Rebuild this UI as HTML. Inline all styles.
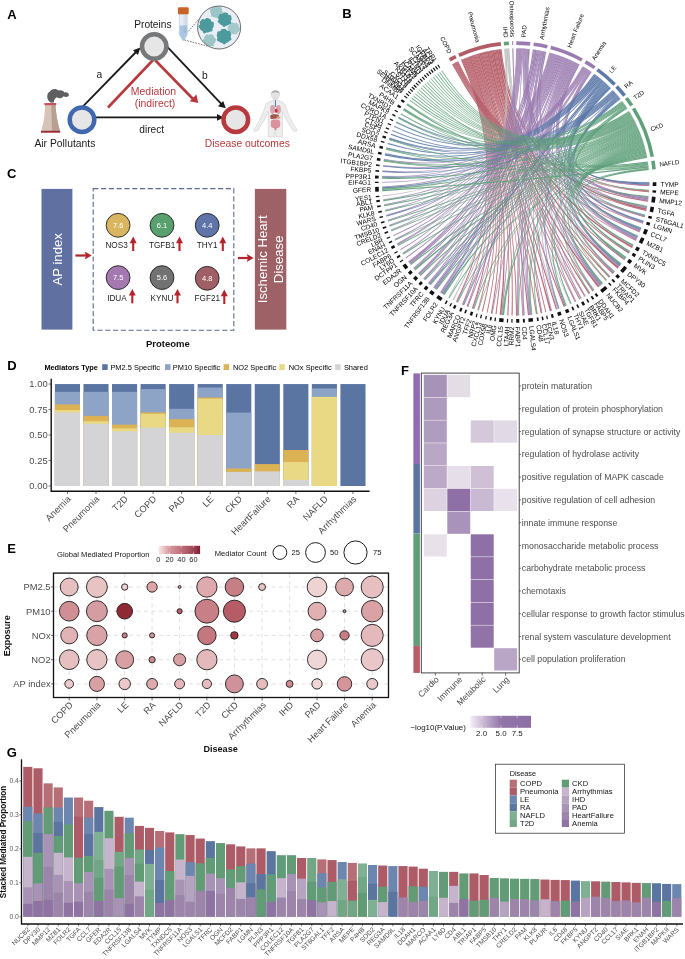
<!DOCTYPE html>
<html><head><meta charset="utf-8"><title>Figure</title>
<style>html,body{margin:0;padding:0;background:#fff}svg{display:block;will-change:transform}text{font-family:"Liberation Sans",sans-serif}</style></head>
<body>
<svg width="685" height="959" viewBox="0 0 685 959">
<rect width="685" height="959" fill="#fff"/>
<text x="7.20" y="19.00" font-size="13" fill="#000" text-anchor="start" font-weight="bold">A</text>
<g stroke="#1a1a1a" stroke-width="1.8" fill="none">
<line x1="82" y1="107.4" x2="136.5" y2="51.5"/>
<line x1="166.6" y1="46.2" x2="222" y2="104.6"/>
<line x1="86" y1="117.4" x2="219" y2="117.4"/>
</g>
<polygon points="140.4,47.6 133,50.2 137.9,55.1" fill="#1a1a1a"/>
<polygon points="225.8,108.3 217.9,106.3 223.2,101.1" fill="#1a1a1a"/>
<polygon points="223.9,117.4 217,114 217,120.8" fill="#1a1a1a"/>
<g stroke="#b8393d" stroke-width="2.6" fill="none">
<line x1="154" y1="59" x2="108" y2="107.5"/>
<line x1="154" y1="59" x2="193.5" y2="99.5"/>
</g>
<polygon points="198.3,103 189.6,101.2 196.4,94.4" fill="#b8393d"/>
<circle cx="154.2" cy="46.5" r="12.2" fill="#e6e6e6" stroke="#77787a" stroke-width="4.5"/>
<circle cx="82" cy="119.7" r="12.3" fill="#e6e6e6" stroke="#4167ae" stroke-width="4.5"/>
<circle cx="235.8" cy="119.7" r="12.3" fill="#e6e6e6" stroke="#b8393d" stroke-width="4.5"/>
<text x="134.20" y="27.50" font-size="10.2" fill="#1a1a1a" text-anchor="start" font-weight="normal">Proteins</text>
<text x="96.50" y="78.00" font-size="10.2" fill="#1a1a1a" text-anchor="start" font-weight="normal">a</text>
<text x="202.00" y="78.60" font-size="10.2" fill="#1a1a1a" text-anchor="start" font-weight="normal">b</text>
<text x="153.50" y="95.00" font-size="10.45" fill="#b8393d" text-anchor="middle" font-weight="normal">Mediation</text>
<text x="155.00" y="107.00" font-size="10.45" fill="#b8393d" text-anchor="middle" font-weight="normal">(indirect)</text>
<text x="151.70" y="133.00" font-size="10.2" fill="#1a1a1a" text-anchor="middle" font-weight="normal">direct</text>
<text x="34.40" y="147.00" font-size="10.35" fill="#1a1a1a" text-anchor="start" font-weight="normal">Air Pollutants</text>
<text x="289.90" y="147.00" font-size="10.35" fill="#b8393d" text-anchor="end" font-weight="normal">Disease outcomes</text>
<path d="M50.5 102.5 C46 100 46.5 92.5 50 91.5 C51 88.5 56.5 88 58.5 90.5 C61 89.5 64 90.8 64.5 92.5 C67 91.8 69.5 93.5 68.8 95.5 C68 97.5 65 97 63.5 96.2 C62 98.5 58.5 98.8 57 97.3 C55 98 54 100 53.6 102.8 Z" fill="#5f5f61"/>
<path d="M45 105 L55.6 105 C55.8 113 57.5 122 60 131 L41.2 131 C44 122 45 113 45 105 Z" fill="#d6c4b8"/>
<path d="M51.2 105 L55.6 105 C55.8 113 57.5 122 60 131 L52 131 Z" fill="#b99f92"/>
<rect x="44.4" y="103" width="11.8" height="2.2" fill="#c8535d"/>
<rect x="41" y="130.8" width="19.2" height="1.9" fill="#9e2a33"/>
<path d="M179.3 14 L187.3 14 L187.3 34.5 L184 40.5 L182.8 40.5 L179.3 34.5 Z" fill="#e4ecf5" stroke="#9fb0c4" stroke-width="0.4"/>
<path d="M179.5 25.6 L187.1 25.6 L187.1 34.4 L183.9 40.2 L182.9 40.2 L179.5 34.4 Z" fill="#a9c6e4"/>
<rect x="177.9" y="7.2" width="10.8" height="7" rx="1.2" fill="#c86428"/>
<g stroke="#8a98aa" stroke-width="0.35"><line x1="183.5" y1="16" x2="187" y2="16"/><line x1="183.5" y1="18" x2="187" y2="18"/><line x1="183.5" y1="20" x2="187" y2="20"/><line x1="183.5" y1="22" x2="187" y2="22"/><line x1="183.5" y1="24" x2="187" y2="24"/><line x1="183.5" y1="26" x2="187" y2="26"/><line x1="183.5" y1="28" x2="187" y2="28"/><line x1="183.5" y1="30" x2="187" y2="30"/><line x1="183.5" y1="32" x2="187" y2="32"/></g>
<g stroke="#222" stroke-width="0.6" stroke-dasharray="1.7 1.1"><line x1="188.3" y1="31.3" x2="198.4" y2="19.7"/><line x1="184.5" y1="40" x2="207.5" y2="46.1"/></g>
<clipPath id="bc"><circle cx="219.1" cy="27.5" r="21.3"/></clipPath>
<circle cx="219.1" cy="27.5" r="21.5" fill="#e9eef4"/>
<g clip-path="url(#bc)">
<polygon points="222.60,11.80 223.16,12.69 222.89,13.54 222.15,14.18 221.64,14.82 221.27,15.54 220.63,16.03 219.87,16.33 219.37,16.94 218.94,17.92 218.19,18.50 217.24,18.21 216.40,17.69 215.64,17.60 214.83,17.66 214.10,17.35 213.43,16.94 212.55,16.81 211.55,16.65 211.04,15.91 211.16,14.82 211.22,13.95 210.75,13.31 210.25,12.61 210.20,11.80 210.25,10.99 210.07,10.10 210.12,9.20 210.90,8.62 211.92,8.36 212.48,7.88 212.70,6.97 213.17,6.20 213.96,5.90 214.76,5.68 215.55,5.31 216.40,5.29 217.17,5.92 217.81,6.52 218.61,6.47 219.63,6.20 220.48,6.49 220.94,7.26 221.37,7.99 221.90,8.62 222.11,9.44 221.89,10.33 221.94,11.07" fill="#9cc5c7"/>
<polygon points="240.32,28.50 239.96,29.31 239.43,30.01 239.18,30.73 238.86,31.42 238.21,31.89 237.62,32.32 237.36,33.14 237.04,34.12 236.29,34.51 235.34,34.23 234.53,34.01 233.80,34.18 233.05,34.23 232.34,33.94 231.62,33.76 230.69,33.89 229.79,33.73 229.40,32.90 229.40,31.88 229.14,31.19 228.52,30.69 228.10,30.03 228.02,29.26 227.82,28.50 227.46,27.67 227.60,26.84 228.44,26.28 229.25,25.87 229.49,25.19 229.59,24.29 230.07,23.64 230.80,23.30 231.46,22.86 232.17,22.40 233.01,22.49 233.80,23.07 234.48,23.33 235.28,22.97 236.20,22.70 236.94,23.07 237.46,23.73 238.06,24.24 238.62,24.80 238.76,25.64 238.68,26.48 239.06,27.09 239.89,27.70" fill="#a3c9cb"/>
<polygon points="215.76,40.40 215.47,41.20 215.38,42.00 215.01,42.72 214.34,43.25 213.96,43.90 213.93,44.93 213.61,45.89 212.73,46.16 211.72,46.00 210.92,46.08 210.19,46.40 209.40,46.41 208.64,46.19 207.81,46.32 206.82,46.63 205.96,46.36 205.57,45.39 205.36,44.44 204.82,43.92 204.11,43.45 203.72,42.75 203.51,41.98 203.02,41.24 202.57,40.40 202.87,39.54 203.75,38.89 204.30,38.29 204.28,37.45 204.36,36.53 204.90,35.90 205.57,35.40 206.13,34.74 206.86,34.26 207.81,34.46 208.68,34.91 209.40,34.80 210.22,34.20 211.12,33.99 211.88,34.42 212.55,34.94 213.30,35.31 213.87,35.93 214.01,36.86 214.16,37.65 214.90,38.12 215.83,38.68 216.12,39.52" fill="#9cc5c7"/>
<polygon points="213.67,25.60 213.66,26.56 213.15,27.41 212.50,28.13 212.43,29.08 212.61,30.36 212.15,31.35 211.01,31.61 209.91,31.68 209.09,32.10 208.25,32.52 207.31,32.49 206.40,32.48 205.43,33.00 204.30,33.44 203.36,32.93 202.84,31.77 202.32,30.91 201.47,30.53 200.66,30.00 200.22,29.17 199.71,28.37 198.87,27.62 198.40,26.65 198.93,25.60 199.80,24.73 200.02,23.89 199.77,22.85 199.91,21.85 200.54,21.10 201.11,20.31 201.63,19.38 202.54,18.91 203.74,19.18 204.74,19.39 205.51,18.82 206.40,18.02 207.41,17.91 208.34,18.36 209.26,18.69 210.21,19.00 210.84,19.82 211.08,20.92 211.60,21.61 212.73,21.94 213.76,22.55 213.95,23.58 213.69,24.64" fill="#4c9a9b"/>
<polygon points="231.58,19.50 231.07,20.32 230.74,21.09 231.04,22.08 231.27,23.24 230.70,24.03 229.64,24.34 228.77,24.68 228.13,25.26 227.33,25.61 226.44,25.64 225.65,25.95 224.80,26.71 223.81,27.05 222.95,26.41 222.34,25.45 221.64,24.97 220.77,24.75 220.07,24.23 219.57,23.51 218.83,22.95 217.92,22.35 217.63,21.42 218.18,20.37 218.70,19.50 218.52,18.67 218.21,17.73 218.41,16.85 218.87,16.08 219.16,15.17 219.58,14.28 220.54,13.94 221.69,14.11 222.49,13.93 223.09,13.10 223.87,12.40 224.80,12.39 225.71,12.62 226.63,12.67 227.52,12.95 228.08,13.81 228.47,14.72 229.24,15.06 230.42,15.19 231.23,15.79 231.36,16.78 231.37,17.74 231.60,18.60" fill="#4c9a9b"/>
<polygon points="230.61,36.40 230.67,37.28 231.30,38.36 231.49,39.50 230.73,40.29 229.70,40.77 229.01,41.41 228.38,42.11 227.49,42.44 226.59,42.64 225.86,43.36 225.04,44.32 224.00,44.50 223.04,43.72 222.24,42.98 221.35,42.79 220.41,42.61 219.69,42.02 218.99,41.41 217.95,41.04 216.97,40.46 216.84,39.37 217.35,38.18 217.48,37.26 216.99,36.40 216.68,35.44 216.92,34.50 217.17,33.57 217.24,32.50 217.73,31.59 218.89,31.29 220.04,31.24 220.68,30.65 221.18,29.60 222.01,28.97 223.02,28.95 224.00,28.92 225.01,28.76 225.94,29.15 226.60,30.13 227.22,30.82 228.28,30.83 229.52,30.88 230.24,31.61 230.46,32.67 230.78,33.59 231.17,34.48 231.07,35.47" fill="#4c9a9b"/>
</g>
<circle cx="219.1" cy="27.5" r="21.5" fill="none" stroke="#333" stroke-width="0.7"/>
<g fill="#ededed" stroke="#c9c9c9" stroke-width="0.5">
<path d="M273.6 98.3 L273.4 100.6 C270 101.4 267.2 102 266 104.2 C263.5 112 259.5 121 255.6 127.2 C254 128.6 253.2 130.6 254.4 131.2 C255.6 131.8 256.6 131.4 257.4 130.2 C258 131 258.8 130.4 258.6 129.2 C262.2 124 265.8 117.6 268.4 111.4 L268.2 137 L274.7 137 L275.4 125.5 L276.1 137 L282.6 137 L282.4 111.4 C285 117.6 288.6 124 292.2 129.2 C292 130.4 292.8 131 293.4 130.2 C294.2 131.4 295.2 131.8 296.4 131.2 C297.6 130.6 296.8 128.6 295.2 127.2 C291.3 121 287.3 112 284.8 104.2 C283.6 102 280.8 101.4 277.4 100.6 L277.2 98.3 Z"/>
<circle cx="275.4" cy="94.6" r="4.2" fill="#e3e3e3"/>
</g>
<path d="M271.3 93.5 C271 89.5 280 89.5 279.6 93.8 C278 91.8 273 91.8 271.3 93.5Z" fill="#a9a9a9"/>
<rect x="274.9" y="100" width="1" height="7" fill="#3f78b5"/>
<ellipse cx="272.6" cy="109.5" rx="2.5" ry="4.4" fill="#dba3ab"/><ellipse cx="278.4" cy="109.5" rx="2.5" ry="4.4" fill="#dba3ab"/>
<ellipse cx="276.2" cy="110.8" rx="1.5" ry="2" fill="#b83a44"/>
<path d="M270.3 115.5 C272 113.8 277 114 279 115.2 L278.5 117.8 C275.5 118.8 272.5 119.3 270.5 118.8 Z" fill="#a2574a"/>
<ellipse cx="278.6" cy="117.6" rx="1.9" ry="1.5" fill="#d9a28f"/>
<rect x="270.8" y="119.4" width="9.4" height="8.6" rx="3" fill="#dc929c"/>
<rect x="274.4" y="127" width="2.2" height="3" rx="1" fill="#d07e89"/>
<text x="342.30" y="18.40" font-size="13" fill="#000" text-anchor="start" font-weight="bold">B</text>
<g fill="#b35b66" fill-opacity="0.92" stroke="#b35b66" stroke-width="0.16" stroke-opacity="0.9">
<path d="M457.5 61.7A133.6 133.6 0 0 1 458.2 61.4Q515.7 182.0 649.3 185.2A133.6 133.6 0 0 1 649.2 185.9Q515.7 182.0 457.5 61.7Z"/>
<path d="M456.7 62.1A133.6 133.6 0 0 1 457.5 61.7Q515.7 182.0 649.0 191.5A133.6 133.6 0 0 1 648.9 192.2Q515.7 182.0 456.7 62.1Z"/>
<path d="M455.7 62.6A133.6 133.6 0 0 1 456.7 62.1Q515.7 182.0 648.0 200.8A133.6 133.6 0 0 1 647.8 201.8Q515.7 182.0 455.7 62.6Z"/>
<path d="M454.9 63.0A133.6 133.6 0 0 1 455.7 62.6Q515.7 182.0 646.3 210.1A133.6 133.6 0 0 1 646.1 210.9Q515.7 182.0 454.9 63.0Z"/>
<path d="M454.3 63.3A133.6 133.6 0 0 1 454.9 63.0Q515.7 182.0 644.7 216.6A133.6 133.6 0 0 1 644.6 217.2Q515.7 182.0 454.3 63.3Z"/>
<path d="M453.7 63.7A133.6 133.6 0 0 1 454.3 63.3Q515.7 182.0 642.9 222.9A133.6 133.6 0 0 1 642.7 223.6Q515.7 182.0 453.7 63.7Z"/>
<path d="M453.0 64.0A133.6 133.6 0 0 1 453.7 63.7Q515.7 182.0 639.8 231.5A133.6 133.6 0 0 1 639.5 232.2Q515.7 182.0 453.0 64.0Z"/>
<path d="M452.2 64.5A133.6 133.6 0 0 1 453.0 64.0Q515.7 182.0 636.1 240.0A133.6 133.6 0 0 1 635.7 240.7Q515.7 182.0 452.2 64.5Z"/>
</g>
<g fill="#b35b66" fill-opacity="0.92" stroke="#b35b66" stroke-width="0.16" stroke-opacity="0.9">
<path d="M500.5 49.3A133.6 133.6 0 0 1 501.5 49.2Q515.7 182.0 649.0 190.6A133.6 133.6 0 0 1 649.0 191.5Q515.7 182.0 500.5 49.3Z"/>
<path d="M498.5 49.5A133.6 133.6 0 0 1 500.5 49.3Q515.7 182.0 646.7 208.4A133.6 133.6 0 0 1 646.3 210.1Q515.7 182.0 498.5 49.5Z"/>
<path d="M496.6 49.8A133.6 133.6 0 0 1 498.5 49.5Q515.7 182.0 632.7 246.5A133.6 133.6 0 0 1 631.9 247.9Q515.7 182.0 496.6 49.8Z"/>
<path d="M495.4 50.0A133.6 133.6 0 0 1 496.6 49.8Q515.7 182.0 629.2 252.5A133.6 133.6 0 0 1 628.6 253.4Q515.7 182.0 495.4 50.0Z"/>
<path d="M494.3 50.1A133.6 133.6 0 0 1 495.4 50.0Q515.7 182.0 624.7 259.2A133.6 133.6 0 0 1 624.2 260.0Q515.7 182.0 494.3 50.1Z"/>
<path d="M492.1 50.5A133.6 133.6 0 0 1 494.3 50.1Q515.7 182.0 618.7 267.0A133.6 133.6 0 0 1 617.5 268.5Q515.7 182.0 492.1 50.5Z"/>
<path d="M490.8 50.7A133.6 133.6 0 0 1 492.1 50.5Q515.7 182.0 613.4 273.1A133.6 133.6 0 0 1 612.7 273.9Q515.7 182.0 490.8 50.7Z"/>
<path d="M489.5 51.0A133.6 133.6 0 0 1 490.8 50.7Q515.7 182.0 609.8 276.8A133.6 133.6 0 0 1 609.0 277.6Q515.7 182.0 489.5 51.0Z"/>
<path d="M488.7 51.2A133.6 133.6 0 0 1 489.5 51.0Q515.7 182.0 606.3 280.2A133.6 133.6 0 0 1 605.8 280.7Q515.7 182.0 488.7 51.2Z"/>
<path d="M486.7 51.6A133.6 133.6 0 0 1 488.7 51.2Q515.7 182.0 599.3 286.3A133.6 133.6 0 0 1 597.9 287.3Q515.7 182.0 486.7 51.6Z"/>
<path d="M485.8 51.8A133.6 133.6 0 0 1 486.7 51.6Q515.7 182.0 593.2 290.8A133.6 133.6 0 0 1 592.5 291.3Q515.7 182.0 485.8 51.8Z"/>
<path d="M484.6 52.1A133.6 133.6 0 0 1 485.8 51.8Q515.7 182.0 589.6 293.3A133.6 133.6 0 0 1 588.7 293.9Q515.7 182.0 484.6 52.1Z"/>
<path d="M483.7 52.3A133.6 133.6 0 0 1 484.6 52.1Q515.7 182.0 585.1 296.2A133.6 133.6 0 0 1 584.4 296.6Q515.7 182.0 483.7 52.3Z"/>
<path d="M482.7 52.5A133.6 133.6 0 0 1 483.7 52.3Q515.7 182.0 580.2 299.0A133.6 133.6 0 0 1 579.4 299.4Q515.7 182.0 482.7 52.5Z"/>
<path d="M481.8 52.8A133.6 133.6 0 0 1 482.7 52.5Q515.7 182.0 575.4 301.5A133.6 133.6 0 0 1 574.8 301.8Q515.7 182.0 481.8 52.8Z"/>
<path d="M480.6 53.1A133.6 133.6 0 0 1 481.8 52.8Q515.7 182.0 564.6 306.3A133.6 133.6 0 0 1 563.6 306.7Q515.7 182.0 480.6 53.1Z"/>
<path d="M479.3 53.4A133.6 133.6 0 0 1 480.6 53.1Q515.7 182.0 557.1 309.0A133.6 133.6 0 0 1 556.0 309.4Q515.7 182.0 479.3 53.4Z"/>
<path d="M477.8 53.9A133.6 133.6 0 0 1 479.3 53.4Q515.7 182.0 551.2 310.8A133.6 133.6 0 0 1 549.9 311.2Q515.7 182.0 477.8 53.9Z"/>
<path d="M477.0 54.1A133.6 133.6 0 0 1 477.8 53.9Q515.7 182.0 546.2 312.1A133.6 133.6 0 0 1 545.5 312.2Q515.7 182.0 477.0 54.1Z"/>
<path d="M476.1 54.4A133.6 133.6 0 0 1 477.0 54.1Q515.7 182.0 541.6 313.1A133.6 133.6 0 0 1 540.8 313.2Q515.7 182.0 476.1 54.4Z"/>
<path d="M475.1 54.7A133.6 133.6 0 0 1 476.1 54.4Q515.7 182.0 536.9 313.9A133.6 133.6 0 0 1 536.1 314.0Q515.7 182.0 475.1 54.7Z"/>
<path d="M474.0 55.1A133.6 133.6 0 0 1 475.1 54.7Q515.7 182.0 529.0 314.9A133.6 133.6 0 0 1 528.0 315.0Q515.7 182.0 474.0 55.1Z"/>
<path d="M473.4 55.3A133.6 133.6 0 0 1 474.0 55.1Q515.7 182.0 523.2 315.4A133.6 133.6 0 0 1 522.6 315.4Q515.7 182.0 473.4 55.3Z"/>
<path d="M472.4 55.6A133.6 133.6 0 0 1 473.4 55.3Q515.7 182.0 517.0 315.6A133.6 133.6 0 0 1 516.1 315.6Q515.7 182.0 472.4 55.6Z"/>
<path d="M471.5 55.9A133.6 133.6 0 0 1 472.4 55.6Q515.7 182.0 512.5 315.6A133.6 133.6 0 0 1 511.6 315.5Q515.7 182.0 471.5 55.9Z"/>
<path d="M470.5 56.3A133.6 133.6 0 0 1 471.5 55.9Q515.7 182.0 508.3 315.4A133.6 133.6 0 0 1 507.4 315.3Q515.7 182.0 470.5 56.3Z"/>
<path d="M468.9 56.9A133.6 133.6 0 0 1 470.5 56.3Q515.7 182.0 501.3 314.8A133.6 133.6 0 0 1 499.8 314.7Q515.7 182.0 468.9 56.9Z"/>
<path d="M468.1 57.2A133.6 133.6 0 0 1 468.9 56.9Q515.7 182.0 496.4 314.2A133.6 133.6 0 0 1 495.6 314.1Q515.7 182.0 468.1 57.2Z"/>
<path d="M467.1 57.5A133.6 133.6 0 0 1 468.1 57.2Q515.7 182.0 491.9 313.5A133.6 133.6 0 0 1 491.0 313.3Q515.7 182.0 467.1 57.5Z"/>
<path d="M466.3 57.9A133.6 133.6 0 0 1 467.1 57.5Q515.7 182.0 487.5 312.6A133.6 133.6 0 0 1 486.8 312.4Q515.7 182.0 466.3 57.9Z"/>
<path d="M465.4 58.2A133.6 133.6 0 0 1 466.3 57.9Q515.7 182.0 482.8 311.5A133.6 133.6 0 0 1 482.0 311.3Q515.7 182.0 465.4 58.2Z"/>
<path d="M464.6 58.5A133.6 133.6 0 0 1 465.4 58.2Q515.7 182.0 478.3 310.3A133.6 133.6 0 0 1 477.6 310.0Q515.7 182.0 464.6 58.5Z"/>
<path d="M463.6 59.0A133.6 133.6 0 0 1 464.6 58.5Q515.7 182.0 472.9 308.5A133.6 133.6 0 0 1 472.0 308.2Q515.7 182.0 463.6 59.0Z"/>
<path d="M462.9 59.3A133.6 133.6 0 0 1 463.6 59.0Q515.7 182.0 467.4 306.6A133.6 133.6 0 0 1 466.8 306.3Q515.7 182.0 462.9 59.3Z"/>
<path d="M462.1 59.6A133.6 133.6 0 0 1 462.9 59.3Q515.7 182.0 462.8 304.7A133.6 133.6 0 0 1 462.1 304.4Q515.7 182.0 462.1 59.6Z"/>
<path d="M461.1 60.0A133.6 133.6 0 0 1 462.1 59.6Q515.7 182.0 456.9 302.0A133.6 133.6 0 0 1 456.1 301.6Q515.7 182.0 461.1 60.0Z"/>
</g>
<g fill="#bdbdbd" fill-opacity="0.92" stroke="#bdbdbd" stroke-width="0.16" stroke-opacity="0.9">
<path d="M508.2 48.6A133.6 133.6 0 0 1 509.2 48.6Q515.7 182.0 580.9 298.6A133.6 133.6 0 0 1 580.2 299.0Q515.7 182.0 508.2 48.6Z"/>
<path d="M507.6 48.6A133.6 133.6 0 0 1 508.2 48.6Q515.7 182.0 570.5 303.8A133.6 133.6 0 0 1 569.9 304.1Q515.7 182.0 507.6 48.6Z"/>
<path d="M506.4 48.7A133.6 133.6 0 0 1 507.6 48.6Q515.7 182.0 558.2 308.7A133.6 133.6 0 0 1 557.1 309.0Q515.7 182.0 506.4 48.7Z"/>
<path d="M505.1 48.8A133.6 133.6 0 0 1 506.4 48.7Q515.7 182.0 453.7 300.3A133.6 133.6 0 0 1 452.7 299.8Q515.7 182.0 505.1 48.8Z"/>
<path d="M504.3 48.9A133.6 133.6 0 0 1 505.1 48.8Q515.7 182.0 448.9 297.7A133.6 133.6 0 0 1 448.2 297.3Q515.7 182.0 504.3 48.9Z"/>
</g>
<g fill="#9a7bb0" fill-opacity="0.92" stroke="#9a7bb0" stroke-width="0.16" stroke-opacity="0.9">
<path d="M512.3 48.4A133.6 133.6 0 0 1 513.3 48.4Q515.7 182.0 529.4 314.9A133.6 133.6 0 0 1 529.0 314.9Q515.7 182.0 512.3 48.4Z"/>
</g>
<g fill="#9a7bb0" fill-opacity="0.92" stroke="#9a7bb0" stroke-width="0.16" stroke-opacity="0.9">
<path d="M528.2 49.0A133.6 133.6 0 0 1 529.7 49.1Q515.7 182.0 648.2 199.4A133.6 133.6 0 0 1 648.0 200.8Q515.7 182.0 528.2 49.0Z"/>
<path d="M527.4 48.9A133.6 133.6 0 0 1 528.2 49.0Q515.7 182.0 646.8 207.6A133.6 133.6 0 0 1 646.7 208.4Q515.7 182.0 527.4 48.9Z"/>
<path d="M526.7 48.9A133.6 133.6 0 0 1 527.4 48.9Q515.7 182.0 644.9 216.0A133.6 133.6 0 0 1 644.7 216.6Q515.7 182.0 526.7 48.9Z"/>
<path d="M525.8 48.8A133.6 133.6 0 0 1 526.7 48.9Q515.7 182.0 640.1 230.7A133.6 133.6 0 0 1 639.8 231.5Q515.7 182.0 525.8 48.8Z"/>
<path d="M525.0 48.7A133.6 133.6 0 0 1 525.8 48.8Q515.7 182.0 636.4 239.3A133.6 133.6 0 0 1 636.1 240.0Q515.7 182.0 525.0 48.7Z"/>
<path d="M524.2 48.7A133.6 133.6 0 0 1 525.0 48.7Q515.7 182.0 619.2 266.5A133.6 133.6 0 0 1 618.7 267.0Q515.7 182.0 524.2 48.7Z"/>
<path d="M523.5 48.6A133.6 133.6 0 0 1 524.2 48.7Q515.7 182.0 599.8 285.8A133.6 133.6 0 0 1 599.3 286.3Q515.7 182.0 523.5 48.6Z"/>
<path d="M522.7 48.6A133.6 133.6 0 0 1 523.5 48.6Q515.7 182.0 502.1 314.9A133.6 133.6 0 0 1 501.3 314.8Q515.7 182.0 522.7 48.6Z"/>
<path d="M521.7 48.5A133.6 133.6 0 0 1 522.7 48.6Q515.7 182.0 441.0 292.8A133.6 133.6 0 0 1 440.2 292.3Q515.7 182.0 521.7 48.5Z"/>
<path d="M520.9 48.5A133.6 133.6 0 0 1 521.7 48.5Q515.7 182.0 434.0 287.7A133.6 133.6 0 0 1 433.4 287.3Q515.7 182.0 520.9 48.5Z"/>
<path d="M520.2 48.5A133.6 133.6 0 0 1 520.9 48.5Q515.7 182.0 428.8 283.5A133.6 133.6 0 0 1 428.2 283.0Q515.7 182.0 520.2 48.5Z"/>
<path d="M519.4 48.5A133.6 133.6 0 0 1 520.2 48.5Q515.7 182.0 423.9 279.1A133.6 133.6 0 0 1 423.4 278.6Q515.7 182.0 519.4 48.5Z"/>
<path d="M518.7 48.4A133.6 133.6 0 0 1 519.4 48.5Q515.7 182.0 418.6 273.8A133.6 133.6 0 0 1 418.2 273.3Q515.7 182.0 518.7 48.4Z"/>
<path d="M518.0 48.4A133.6 133.6 0 0 1 518.7 48.4Q515.7 182.0 413.8 268.4A133.6 133.6 0 0 1 413.4 267.9Q515.7 182.0 518.0 48.4Z"/>
<path d="M517.0 48.4A133.6 133.6 0 0 1 518.0 48.4Q515.7 182.0 408.8 262.1A133.6 133.6 0 0 1 408.3 261.4Q515.7 182.0 517.0 48.4Z"/>
<path d="M516.3 48.4A133.6 133.6 0 0 1 517.0 48.4Q515.7 182.0 400.7 250.0A133.6 133.6 0 0 1 400.3 249.3Q515.7 182.0 516.3 48.4Z"/>
</g>
<g fill="#9a7bb0" fill-opacity="0.92" stroke="#9a7bb0" stroke-width="0.16" stroke-opacity="0.9">
<path d="M545.0 51.7A133.6 133.6 0 0 1 546.2 51.9Q515.7 182.0 636.8 238.4A133.6 133.6 0 0 1 636.4 239.3Q515.7 182.0 545.0 51.7Z"/>
<path d="M543.4 51.3A133.6 133.6 0 0 1 545.0 51.7Q515.7 182.0 600.8 285.0A133.6 133.6 0 0 1 599.8 285.8Q515.7 182.0 543.4 51.3Z"/>
<path d="M542.6 51.1A133.6 133.6 0 0 1 543.4 51.3Q515.7 182.0 530.0 314.8A133.6 133.6 0 0 1 529.4 314.9Q515.7 182.0 542.6 51.1Z"/>
<path d="M541.6 50.9A133.6 133.6 0 0 1 542.6 51.1Q515.7 182.0 523.9 315.3A133.6 133.6 0 0 1 523.2 315.4Q515.7 182.0 541.6 50.9Z"/>
<path d="M540.7 50.8A133.6 133.6 0 0 1 541.6 50.9Q515.7 182.0 517.7 315.6A133.6 133.6 0 0 1 517.0 315.6Q515.7 182.0 540.7 50.8Z"/>
<path d="M539.9 50.6A133.6 133.6 0 0 1 540.7 50.8Q515.7 182.0 473.5 308.8A133.6 133.6 0 0 1 472.9 308.5Q515.7 182.0 539.9 50.6Z"/>
<path d="M539.1 50.5A133.6 133.6 0 0 1 539.9 50.6Q515.7 182.0 457.4 302.2A133.6 133.6 0 0 1 456.9 302.0Q515.7 182.0 539.1 50.5Z"/>
<path d="M537.8 50.2A133.6 133.6 0 0 1 539.1 50.5Q515.7 182.0 441.8 293.3A133.6 133.6 0 0 1 441.0 292.8Q515.7 182.0 537.8 50.2Z"/>
<path d="M536.7 50.1A133.6 133.6 0 0 1 537.8 50.2Q515.7 182.0 419.2 274.4A133.6 133.6 0 0 1 418.6 273.8Q515.7 182.0 536.7 50.1Z"/>
<path d="M535.0 49.8A133.6 133.6 0 0 1 536.7 50.1Q515.7 182.0 409.6 263.1A133.6 133.6 0 0 1 408.8 262.1Q515.7 182.0 535.0 49.8Z"/>
<path d="M534.0 49.7A133.6 133.6 0 0 1 535.0 49.8Q515.7 182.0 402.9 253.6A133.6 133.6 0 0 1 402.5 252.9Q515.7 182.0 534.0 49.7Z"/>
<path d="M532.9 49.5A133.6 133.6 0 0 1 534.0 49.7Q515.7 182.0 397.4 244.2A133.6 133.6 0 0 1 397.1 243.4Q515.7 182.0 532.9 49.5Z"/>
</g>
<g fill="#9a7bb0" fill-opacity="0.92" stroke="#9a7bb0" stroke-width="0.16" stroke-opacity="0.9">
<path d="M578.1 63.9A133.6 133.6 0 0 1 579.4 64.6Q515.7 182.0 648.3 198.0A133.6 133.6 0 0 1 648.2 199.4Q515.7 182.0 578.1 63.9Z"/>
<path d="M577.3 63.4A133.6 133.6 0 0 1 578.1 63.9Q515.7 182.0 643.1 222.2A133.6 133.6 0 0 1 642.9 222.9Q515.7 182.0 577.3 63.4Z"/>
<path d="M576.2 62.9A133.6 133.6 0 0 1 577.3 63.4Q515.7 182.0 640.5 229.7A133.6 133.6 0 0 1 640.1 230.7Q515.7 182.0 576.2 62.9Z"/>
<path d="M575.2 62.4A133.6 133.6 0 0 1 576.2 62.9Q515.7 182.0 637.2 237.5A133.6 133.6 0 0 1 636.8 238.4Q515.7 182.0 575.2 62.4Z"/>
<path d="M574.0 61.8A133.6 133.6 0 0 1 575.2 62.4Q515.7 182.0 614.2 272.2A133.6 133.6 0 0 1 613.4 273.1Q515.7 182.0 574.0 61.8Z"/>
<path d="M573.4 61.5A133.6 133.6 0 0 1 574.0 61.8Q515.7 182.0 593.7 290.5A133.6 133.6 0 0 1 593.2 290.8Q515.7 182.0 573.4 61.5Z"/>
<path d="M572.8 61.2A133.6 133.6 0 0 1 573.4 61.5Q515.7 182.0 585.6 295.9A133.6 133.6 0 0 1 585.1 296.2Q515.7 182.0 572.8 61.2Z"/>
<path d="M572.1 60.9A133.6 133.6 0 0 1 572.8 61.2Q515.7 182.0 581.6 298.2A133.6 133.6 0 0 1 580.9 298.6Q515.7 182.0 572.1 60.9Z"/>
<path d="M571.4 60.6A133.6 133.6 0 0 1 572.1 60.9Q515.7 182.0 576.1 301.2A133.6 133.6 0 0 1 575.4 301.5Q515.7 182.0 571.4 60.6Z"/>
<path d="M570.3 60.1A133.6 133.6 0 0 1 571.4 60.6Q515.7 182.0 565.6 305.9A133.6 133.6 0 0 1 564.6 306.3Q515.7 182.0 570.3 60.1Z"/>
<path d="M569.6 59.8A133.6 133.6 0 0 1 570.3 60.1Q515.7 182.0 558.8 308.5A133.6 133.6 0 0 1 558.2 308.7Q515.7 182.0 569.6 59.8Z"/>
<path d="M568.8 59.4A133.6 133.6 0 0 1 569.6 59.8Q515.7 182.0 551.9 310.6A133.6 133.6 0 0 1 551.2 310.8Q515.7 182.0 568.8 59.4Z"/>
<path d="M568.2 59.1A133.6 133.6 0 0 1 568.8 59.4Q515.7 182.0 542.3 312.9A133.6 133.6 0 0 1 541.6 313.1Q515.7 182.0 568.2 59.1Z"/>
<path d="M567.3 58.8A133.6 133.6 0 0 1 568.2 59.1Q515.7 182.0 530.9 314.7A133.6 133.6 0 0 1 530.0 314.8Q515.7 182.0 567.3 58.8Z"/>
<path d="M566.7 58.5A133.6 133.6 0 0 1 567.3 58.8Q515.7 182.0 524.5 315.3A133.6 133.6 0 0 1 523.9 315.3Q515.7 182.0 566.7 58.5Z"/>
<path d="M565.9 58.2A133.6 133.6 0 0 1 566.7 58.5Q515.7 182.0 518.4 315.6A133.6 133.6 0 0 1 517.7 315.6Q515.7 182.0 565.9 58.2Z"/>
<path d="M565.3 57.9A133.6 133.6 0 0 1 565.9 58.2Q515.7 182.0 492.5 313.6A133.6 133.6 0 0 1 491.9 313.5Q515.7 182.0 565.3 57.9Z"/>
<path d="M564.4 57.6A133.6 133.6 0 0 1 565.3 57.9Q515.7 182.0 468.2 306.9A133.6 133.6 0 0 1 467.4 306.6Q515.7 182.0 564.4 57.6Z"/>
<path d="M563.7 57.3A133.6 133.6 0 0 1 564.4 57.6Q515.7 182.0 463.4 304.9A133.6 133.6 0 0 1 462.8 304.7Q515.7 182.0 563.7 57.3Z"/>
<path d="M562.4 56.8A133.6 133.6 0 0 1 563.7 57.3Q515.7 182.0 435.0 288.5A133.6 133.6 0 0 1 434.0 287.7Q515.7 182.0 562.4 56.8Z"/>
<path d="M561.3 56.4A133.6 133.6 0 0 1 562.4 56.8Q515.7 182.0 424.7 279.8A133.6 133.6 0 0 1 423.9 279.1Q515.7 182.0 561.3 56.4Z"/>
<path d="M560.4 56.1A133.6 133.6 0 0 1 561.3 56.4Q515.7 182.0 419.9 275.1A133.6 133.6 0 0 1 419.2 274.4Q515.7 182.0 560.4 56.1Z"/>
<path d="M559.4 55.7A133.6 133.6 0 0 1 560.4 56.1Q515.7 182.0 414.4 269.1A133.6 133.6 0 0 1 413.8 268.4Q515.7 182.0 559.4 55.7Z"/>
<path d="M558.2 55.3A133.6 133.6 0 0 1 559.4 55.7Q515.7 182.0 410.3 264.1A133.6 133.6 0 0 1 409.6 263.1Q515.7 182.0 558.2 55.3Z"/>
<path d="M557.3 55.0A133.6 133.6 0 0 1 558.2 55.3Q515.7 182.0 406.0 258.3A133.6 133.6 0 0 1 405.5 257.6Q515.7 182.0 557.3 55.0Z"/>
<path d="M556.4 54.8A133.6 133.6 0 0 1 557.3 55.0Q515.7 182.0 397.8 244.9A133.6 133.6 0 0 1 397.4 244.2Q515.7 182.0 556.4 54.8Z"/>
<path d="M555.6 54.5A133.6 133.6 0 0 1 556.4 54.8Q515.7 182.0 395.3 239.9A133.6 133.6 0 0 1 394.9 239.1Q515.7 182.0 555.6 54.5Z"/>
<path d="M554.8 54.3A133.6 133.6 0 0 1 555.6 54.5Q515.7 182.0 393.4 235.9A133.6 133.6 0 0 1 393.2 235.2Q515.7 182.0 554.8 54.3Z"/>
<path d="M554.0 54.0A133.6 133.6 0 0 1 554.8 54.3Q515.7 182.0 391.2 230.5A133.6 133.6 0 0 1 391.0 229.8Q515.7 182.0 554.0 54.0Z"/>
<path d="M553.2 53.8A133.6 133.6 0 0 1 554.0 54.0Q515.7 182.0 389.5 225.8A133.6 133.6 0 0 1 389.2 225.0Q515.7 182.0 553.2 53.8Z"/>
<path d="M552.3 53.5A133.6 133.6 0 0 1 553.2 53.8Q515.7 182.0 387.9 220.8A133.6 133.6 0 0 1 387.6 220.0Q515.7 182.0 552.3 53.5Z"/>
<path d="M551.5 53.3A133.6 133.6 0 0 1 552.3 53.5Q515.7 182.0 386.4 215.8A133.6 133.6 0 0 1 386.2 215.0Q515.7 182.0 551.5 53.3Z"/>
<path d="M550.8 53.1A133.6 133.6 0 0 1 551.5 53.3Q515.7 182.0 385.2 210.6A133.6 133.6 0 0 1 385.0 209.9Q515.7 182.0 550.8 53.1Z"/>
<path d="M550.0 52.9A133.6 133.6 0 0 1 550.8 53.1Q515.7 182.0 384.2 205.3A133.6 133.6 0 0 1 384.0 204.6Q515.7 182.0 550.0 52.9Z"/>
<path d="M549.4 52.7A133.6 133.6 0 0 1 550.0 52.9Q515.7 182.0 382.9 196.3A133.6 133.6 0 0 1 382.8 195.7Q515.7 182.0 549.4 52.7Z"/>
</g>
<g fill="#9a7bb0" fill-opacity="0.92" stroke="#9a7bb0" stroke-width="0.16" stroke-opacity="0.9">
<path d="M591.1 71.7A133.6 133.6 0 0 1 591.6 72.0Q515.7 182.0 649.3 184.6A133.6 133.6 0 0 1 649.3 185.2Q515.7 182.0 591.1 71.7Z"/>
<path d="M590.5 71.3A133.6 133.6 0 0 1 591.1 71.7Q515.7 182.0 648.4 197.3A133.6 133.6 0 0 1 648.3 198.0Q515.7 182.0 590.5 71.3Z"/>
<path d="M590.0 71.0A133.6 133.6 0 0 1 590.5 71.3Q515.7 182.0 646.9 207.0A133.6 133.6 0 0 1 646.8 207.6Q515.7 182.0 590.0 71.0Z"/>
<path d="M589.4 70.6A133.6 133.6 0 0 1 590.0 71.0Q515.7 182.0 633.0 245.9A133.6 133.6 0 0 1 632.7 246.5Q515.7 182.0 589.4 70.6Z"/>
<path d="M588.9 70.2A133.6 133.6 0 0 1 589.4 70.6Q515.7 182.0 619.6 265.9A133.6 133.6 0 0 1 619.2 266.5Q515.7 182.0 588.9 70.2Z"/>
<path d="M588.4 69.9A133.6 133.6 0 0 1 588.9 70.2Q515.7 182.0 601.2 284.6A133.6 133.6 0 0 1 600.8 285.0Q515.7 182.0 588.4 69.9Z"/>
<path d="M587.9 69.6A133.6 133.6 0 0 1 588.4 69.9Q515.7 182.0 442.3 293.7A133.6 133.6 0 0 1 441.8 293.3Q515.7 182.0 587.9 69.6Z"/>
<path d="M587.5 69.3A133.6 133.6 0 0 1 587.9 69.6Q515.7 182.0 435.4 288.8A133.6 133.6 0 0 1 435.0 288.5Q515.7 182.0 587.5 69.3Z"/>
<path d="M586.6 68.7A133.6 133.6 0 0 1 587.5 69.3Q515.7 182.0 429.6 284.2A133.6 133.6 0 0 1 428.8 283.5Q515.7 182.0 586.6 68.7Z"/>
<path d="M585.9 68.4A133.6 133.6 0 0 1 586.6 68.7Q515.7 182.0 383.3 200.1A133.6 133.6 0 0 1 383.2 199.4Q515.7 182.0 585.9 68.4Z"/>
<path d="M585.4 68.0A133.6 133.6 0 0 1 585.9 68.4Q515.7 182.0 382.2 187.3A133.6 133.6 0 0 1 382.2 186.7Q515.7 182.0 585.4 68.0Z"/>
<path d="M584.9 67.7A133.6 133.6 0 0 1 585.4 68.0Q515.7 182.0 382.1 182.6A133.6 133.6 0 0 1 382.1 182.1Q515.7 182.0 584.9 67.7Z"/>
<path d="M584.4 67.4A133.6 133.6 0 0 1 584.9 67.7Q515.7 182.0 382.2 176.6A133.6 133.6 0 0 1 382.2 175.9Q515.7 182.0 584.4 67.4Z"/>
<path d="M583.8 67.1A133.6 133.6 0 0 1 584.4 67.4Q515.7 182.0 382.5 171.3A133.6 133.6 0 0 1 382.6 170.6Q515.7 182.0 583.8 67.1Z"/>
<path d="M583.3 66.8A133.6 133.6 0 0 1 583.8 67.1Q515.7 182.0 383.1 165.8A133.6 133.6 0 0 1 383.2 165.2Q515.7 182.0 583.3 66.8Z"/>
<path d="M582.7 66.4A133.6 133.6 0 0 1 583.3 66.8Q515.7 182.0 384.0 159.7A133.6 133.6 0 0 1 384.1 159.0Q515.7 182.0 582.7 66.4Z"/>
</g>
<g fill="#5b78a8" fill-opacity="0.92" stroke="#5b78a8" stroke-width="0.16" stroke-opacity="0.9">
<path d="M609.3 86.7A133.6 133.6 0 0 1 610.8 88.2Q515.7 182.0 649.3 183.3A133.6 133.6 0 0 1 649.3 184.6Q515.7 182.0 609.3 86.7Z"/>
<path d="M608.7 86.1A133.6 133.6 0 0 1 609.3 86.7Q515.7 182.0 645.0 215.4A133.6 133.6 0 0 1 644.9 216.0Q515.7 182.0 608.7 86.1Z"/>
<path d="M607.8 85.2A133.6 133.6 0 0 1 608.7 86.1Q515.7 182.0 643.4 221.4A133.6 133.6 0 0 1 643.1 222.2Q515.7 182.0 607.8 85.2Z"/>
<path d="M607.0 84.4A133.6 133.6 0 0 1 607.8 85.2Q515.7 182.0 640.7 229.1A133.6 133.6 0 0 1 640.5 229.7Q515.7 182.0 607.0 84.4Z"/>
<path d="M606.3 83.8A133.6 133.6 0 0 1 607.0 84.4Q515.7 182.0 637.5 236.9A133.6 133.6 0 0 1 637.2 237.5Q515.7 182.0 606.3 83.8Z"/>
<path d="M605.4 83.0A133.6 133.6 0 0 1 606.3 83.8Q515.7 182.0 620.2 265.3A133.6 133.6 0 0 1 619.6 265.9Q515.7 182.0 605.4 83.0Z"/>
<path d="M604.7 82.3A133.6 133.6 0 0 1 605.4 83.0Q515.7 182.0 601.7 284.2A133.6 133.6 0 0 1 601.2 284.6Q515.7 182.0 604.7 82.3Z"/>
<path d="M604.0 81.8A133.6 133.6 0 0 1 604.7 82.3Q515.7 182.0 559.3 308.3A133.6 133.6 0 0 1 558.8 308.5Q515.7 182.0 604.0 81.8Z"/>
<path d="M603.3 81.2A133.6 133.6 0 0 1 604.0 81.8Q515.7 182.0 464.0 305.2A133.6 133.6 0 0 1 463.4 304.9Q515.7 182.0 603.3 81.2Z"/>
<path d="M602.0 80.0A133.6 133.6 0 0 1 603.3 81.2Q515.7 182.0 443.3 294.3A133.6 133.6 0 0 1 442.3 293.7Q515.7 182.0 602.0 80.0Z"/>
<path d="M601.2 79.4A133.6 133.6 0 0 1 602.0 80.0Q515.7 182.0 436.0 289.2A133.6 133.6 0 0 1 435.4 288.8Q515.7 182.0 601.2 79.4Z"/>
<path d="M600.5 78.8A133.6 133.6 0 0 1 601.2 79.4Q515.7 182.0 386.6 216.4A133.6 133.6 0 0 1 386.4 215.8Q515.7 182.0 600.5 78.8Z"/>
<path d="M599.2 77.7A133.6 133.6 0 0 1 600.5 78.8Q515.7 182.0 385.0 154.3A133.6 133.6 0 0 1 385.2 153.3Q515.7 182.0 599.2 77.7Z"/>
<path d="M598.4 77.0A133.6 133.6 0 0 1 599.2 77.7Q515.7 182.0 386.4 148.2A133.6 133.6 0 0 1 386.6 147.5Q515.7 182.0 598.4 77.0Z"/>
<path d="M597.1 76.1A133.6 133.6 0 0 1 598.4 77.0Q515.7 182.0 387.6 143.9A133.6 133.6 0 0 1 387.9 142.9Q515.7 182.0 597.1 76.1Z"/>
<path d="M596.2 75.4A133.6 133.6 0 0 1 597.1 76.1Q515.7 182.0 389.4 138.5A133.6 133.6 0 0 1 389.6 137.8Q515.7 182.0 596.2 75.4Z"/>
<path d="M595.1 74.6A133.6 133.6 0 0 1 596.2 75.4Q515.7 182.0 390.8 134.7A133.6 133.6 0 0 1 391.1 133.8Q515.7 182.0 595.1 74.6Z"/>
<path d="M594.2 73.9A133.6 133.6 0 0 1 595.1 74.6Q515.7 182.0 394.0 126.8A133.6 133.6 0 0 1 394.3 126.1Q515.7 182.0 594.2 73.9Z"/>
</g>
<g fill="#5b78a8" fill-opacity="0.92" stroke="#5b78a8" stroke-width="0.16" stroke-opacity="0.9">
<path d="M619.9 98.4A133.6 133.6 0 0 1 620.4 99.0Q515.7 182.0 649.3 182.3A133.6 133.6 0 0 1 649.3 183.3Q515.7 182.0 619.9 98.4Z"/>
<path d="M619.6 98.0A133.6 133.6 0 0 1 619.9 98.4Q515.7 182.0 643.5 220.8A133.6 133.6 0 0 1 643.4 221.4Q515.7 182.0 619.6 98.0Z"/>
<path d="M619.0 97.3A133.6 133.6 0 0 1 619.6 98.0Q515.7 182.0 641.1 228.2A133.6 133.6 0 0 1 640.7 229.1Q515.7 182.0 619.0 97.3Z"/>
<path d="M618.7 96.9A133.6 133.6 0 0 1 619.0 97.3Q515.7 182.0 637.7 236.4A133.6 133.6 0 0 1 637.5 236.9Q515.7 182.0 618.7 96.9Z"/>
<path d="M618.4 96.5A133.6 133.6 0 0 1 618.7 96.9Q515.7 182.0 629.5 252.0A133.6 133.6 0 0 1 629.2 252.5Q515.7 182.0 618.4 96.5Z"/>
<path d="M618.0 96.1A133.6 133.6 0 0 1 618.4 96.5Q515.7 182.0 625.1 258.7A133.6 133.6 0 0 1 624.7 259.2Q515.7 182.0 618.0 96.1Z"/>
<path d="M617.6 95.6A133.6 133.6 0 0 1 618.0 96.1Q515.7 182.0 620.7 264.6A133.6 133.6 0 0 1 620.2 265.3Q515.7 182.0 617.6 95.6Z"/>
<path d="M617.2 95.1A133.6 133.6 0 0 1 617.6 95.6Q515.7 182.0 430.2 284.6A133.6 133.6 0 0 1 429.6 284.2Q515.7 182.0 617.2 95.1Z"/>
<path d="M616.6 94.4A133.6 133.6 0 0 1 617.2 95.1Q515.7 182.0 382.3 188.4A133.6 133.6 0 0 1 382.2 187.3Q515.7 182.0 616.6 94.4Z"/>
<path d="M616.0 93.8A133.6 133.6 0 0 1 616.6 94.4Q515.7 182.0 382.2 177.5A133.6 133.6 0 0 1 382.2 176.6Q515.7 182.0 616.0 93.8Z"/>
<path d="M615.5 93.2A133.6 133.6 0 0 1 616.0 93.8Q515.7 182.0 382.5 172.1A133.6 133.6 0 0 1 382.5 171.3Q515.7 182.0 615.5 93.2Z"/>
<path d="M615.1 92.7A133.6 133.6 0 0 1 615.5 93.2Q515.7 182.0 383.0 166.6A133.6 133.6 0 0 1 383.1 165.8Q515.7 182.0 615.1 92.7Z"/>
<path d="M614.4 92.0A133.6 133.6 0 0 1 615.1 92.7Q515.7 182.0 384.8 155.4A133.6 133.6 0 0 1 385.0 154.3Q515.7 182.0 614.4 92.0Z"/>
<path d="M614.0 91.6A133.6 133.6 0 0 1 614.4 92.0Q515.7 182.0 389.1 139.2A133.6 133.6 0 0 1 389.4 138.5Q515.7 182.0 614.0 91.6Z"/>
<path d="M613.6 91.1A133.6 133.6 0 0 1 614.0 91.6Q515.7 182.0 392.2 130.9A133.6 133.6 0 0 1 392.5 130.3Q515.7 182.0 613.6 91.1Z"/>
<path d="M613.2 90.7A133.6 133.6 0 0 1 613.6 91.1Q515.7 182.0 396.1 122.4A133.6 133.6 0 0 1 396.5 121.7Q515.7 182.0 613.2 90.7Z"/>
<path d="M612.8 90.2A133.6 133.6 0 0 1 613.2 90.7Q515.7 182.0 398.5 117.8A133.6 133.6 0 0 1 398.9 117.1Q515.7 182.0 612.8 90.2Z"/>
</g>
<g fill="#5fa07a" fill-opacity="0.92" stroke="#5fa07a" stroke-width="0.16" stroke-opacity="0.9">
<path d="M626.8 107.8A133.6 133.6 0 0 1 627.2 108.5Q515.7 182.0 649.1 189.9A133.6 133.6 0 0 1 649.0 190.6Q515.7 182.0 626.8 107.8Z"/>
<path d="M626.1 106.7A133.6 133.6 0 0 1 626.8 107.8Q515.7 182.0 625.7 257.8A133.6 133.6 0 0 1 625.1 258.7Q515.7 182.0 626.1 106.7Z"/>
<path d="M625.7 106.2A133.6 133.6 0 0 1 626.1 106.7Q515.7 182.0 531.5 314.7A133.6 133.6 0 0 1 530.9 314.7Q515.7 182.0 625.7 106.2Z"/>
<path d="M625.3 105.6A133.6 133.6 0 0 1 625.7 106.2Q515.7 182.0 502.7 315.0A133.6 133.6 0 0 1 502.1 314.9Q515.7 182.0 625.3 105.6Z"/>
<path d="M624.8 104.9A133.6 133.6 0 0 1 625.3 105.6Q515.7 182.0 382.3 189.1A133.6 133.6 0 0 1 382.3 188.4Q515.7 182.0 624.8 104.9Z"/>
<path d="M624.1 103.9A133.6 133.6 0 0 1 624.8 104.9Q515.7 182.0 383.8 160.7A133.6 133.6 0 0 1 384.0 159.7Q515.7 182.0 624.1 103.9Z"/>
<path d="M623.6 103.3A133.6 133.6 0 0 1 624.1 103.9Q515.7 182.0 386.3 148.9A133.6 133.6 0 0 1 386.4 148.2Q515.7 182.0 623.6 103.3Z"/>
<path d="M623.2 102.7A133.6 133.6 0 0 1 623.6 103.3Q515.7 182.0 403.9 108.9A133.6 133.6 0 0 1 404.3 108.3Q515.7 182.0 623.2 102.7Z"/>
<path d="M622.6 101.9A133.6 133.6 0 0 1 623.2 102.7Q515.7 182.0 407.2 104.1A133.6 133.6 0 0 1 407.7 103.4Q515.7 182.0 622.6 101.9Z"/>
<path d="M622.1 101.2A133.6 133.6 0 0 1 622.6 101.9Q515.7 182.0 428.7 80.6A133.6 133.6 0 0 1 429.2 80.2Q515.7 182.0 622.1 101.2Z"/>
</g>
<g fill="#5fa07a" fill-opacity="0.92" stroke="#5fa07a" stroke-width="0.16" stroke-opacity="0.9">
<path d="M646.9 156.6A133.6 133.6 0 0 1 647.1 157.7Q515.7 182.0 648.5 196.2A133.6 133.6 0 0 1 648.4 197.3Q515.7 182.0 646.9 156.6Z"/>
<path d="M646.7 155.6A133.6 133.6 0 0 1 646.9 156.6Q515.7 182.0 647.1 205.9A133.6 133.6 0 0 1 646.9 207.0Q515.7 182.0 646.7 155.6Z"/>
<path d="M646.5 155.0A133.6 133.6 0 0 1 646.7 155.6Q515.7 182.0 645.2 214.8A133.6 133.6 0 0 1 645.0 215.4Q515.7 182.0 646.5 155.0Z"/>
<path d="M646.4 154.3A133.6 133.6 0 0 1 646.5 155.0Q515.7 182.0 641.3 227.6A133.6 133.6 0 0 1 641.1 228.2Q515.7 182.0 646.4 154.3Z"/>
<path d="M646.3 153.7A133.6 133.6 0 0 1 646.4 154.3Q515.7 182.0 638.0 235.7A133.6 133.6 0 0 1 637.7 236.4Q515.7 182.0 646.3 153.7Z"/>
<path d="M646.0 152.5A133.6 133.6 0 0 1 646.3 153.7Q515.7 182.0 633.6 244.8A133.6 133.6 0 0 1 633.0 245.9Q515.7 182.0 646.0 152.5Z"/>
<path d="M645.7 151.4A133.6 133.6 0 0 1 646.0 152.5Q515.7 182.0 630.1 251.0A133.6 133.6 0 0 1 629.5 252.0Q515.7 182.0 645.7 151.4Z"/>
<path d="M645.5 150.2A133.6 133.6 0 0 1 645.7 151.4Q515.7 182.0 621.5 263.6A133.6 133.6 0 0 1 620.7 264.6Q515.7 182.0 645.5 150.2Z"/>
<path d="M645.3 149.4A133.6 133.6 0 0 1 645.5 150.2Q515.7 182.0 614.8 271.6A133.6 133.6 0 0 1 614.2 272.2Q515.7 182.0 645.3 149.4Z"/>
<path d="M645.1 148.8A133.6 133.6 0 0 1 645.3 149.4Q515.7 182.0 610.3 276.3A133.6 133.6 0 0 1 609.8 276.8Q515.7 182.0 645.1 148.8Z"/>
<path d="M645.0 148.3A133.6 133.6 0 0 1 645.1 148.8Q515.7 182.0 606.7 279.8A133.6 133.6 0 0 1 606.3 280.2Q515.7 182.0 645.0 148.3Z"/>
<path d="M644.6 146.9A133.6 133.6 0 0 1 645.0 148.3Q515.7 182.0 602.9 283.3A133.6 133.6 0 0 1 601.7 284.2Q515.7 182.0 644.6 146.9Z"/>
<path d="M644.4 146.2A133.6 133.6 0 0 1 644.6 146.9Q515.7 182.0 594.3 290.1A133.6 133.6 0 0 1 593.7 290.5Q515.7 182.0 644.4 146.2Z"/>
<path d="M644.2 145.6A133.6 133.6 0 0 1 644.4 146.2Q515.7 182.0 590.2 292.9A133.6 133.6 0 0 1 589.6 293.3Q515.7 182.0 644.2 145.6Z"/>
<path d="M644.0 144.6A133.6 133.6 0 0 1 644.2 145.6Q515.7 182.0 571.4 303.4A133.6 133.6 0 0 1 570.5 303.8Q515.7 182.0 644.0 144.6Z"/>
<path d="M643.7 143.6A133.6 133.6 0 0 1 644.0 144.6Q515.7 182.0 566.7 305.5A133.6 133.6 0 0 1 565.6 305.9Q515.7 182.0 643.7 143.6Z"/>
<path d="M643.5 142.9A133.6 133.6 0 0 1 643.7 143.6Q515.7 182.0 537.6 313.8A133.6 133.6 0 0 1 536.9 313.9Q515.7 182.0 643.5 142.9Z"/>
<path d="M643.2 142.2A133.6 133.6 0 0 1 643.5 142.9Q515.7 182.0 532.2 314.6A133.6 133.6 0 0 1 531.5 314.7Q515.7 182.0 643.2 142.2Z"/>
<path d="M643.0 141.6A133.6 133.6 0 0 1 643.2 142.2Q515.7 182.0 519.1 315.6A133.6 133.6 0 0 1 518.4 315.6Q515.7 182.0 643.0 141.6Z"/>
<path d="M642.7 140.4A133.6 133.6 0 0 1 643.0 141.6Q515.7 182.0 504.0 315.1A133.6 133.6 0 0 1 502.7 315.0Q515.7 182.0 642.7 140.4Z"/>
<path d="M642.5 140.0A133.6 133.6 0 0 1 642.7 140.4Q515.7 182.0 478.7 310.4A133.6 133.6 0 0 1 478.3 310.3Q515.7 182.0 642.5 140.0Z"/>
<path d="M642.3 139.2A133.6 133.6 0 0 1 642.5 140.0Q515.7 182.0 474.3 309.0A133.6 133.6 0 0 1 473.5 308.8Q515.7 182.0 642.3 139.2Z"/>
<path d="M642.1 138.6A133.6 133.6 0 0 1 642.3 139.2Q515.7 182.0 458.0 302.5A133.6 133.6 0 0 1 457.4 302.2Q515.7 182.0 642.1 138.6Z"/>
<path d="M641.6 137.4A133.6 133.6 0 0 1 642.1 138.6Q515.7 182.0 444.5 295.0A133.6 133.6 0 0 1 443.3 294.3Q515.7 182.0 641.6 137.4Z"/>
<path d="M641.3 136.4A133.6 133.6 0 0 1 641.6 137.4Q515.7 182.0 436.8 289.8A133.6 133.6 0 0 1 436.0 289.2Q515.7 182.0 641.3 136.4Z"/>
<path d="M641.1 135.8A133.6 133.6 0 0 1 641.3 136.4Q515.7 182.0 430.7 285.1A133.6 133.6 0 0 1 430.2 284.6Q515.7 182.0 641.1 135.8Z"/>
<path d="M640.8 135.1A133.6 133.6 0 0 1 641.1 135.8Q515.7 182.0 425.3 280.3A133.6 133.6 0 0 1 424.7 279.8Q515.7 182.0 640.8 135.1Z"/>
<path d="M640.4 134.1A133.6 133.6 0 0 1 640.8 135.1Q515.7 182.0 420.6 275.9A133.6 133.6 0 0 1 419.9 275.1Q515.7 182.0 640.4 134.1Z"/>
<path d="M639.9 132.8A133.6 133.6 0 0 1 640.4 134.1Q515.7 182.0 415.4 270.3A133.6 133.6 0 0 1 414.4 269.1Q515.7 182.0 639.9 132.8Z"/>
<path d="M639.5 131.7A133.6 133.6 0 0 1 639.9 132.8Q515.7 182.0 411.0 265.0A133.6 133.6 0 0 1 410.3 264.1Q515.7 182.0 639.5 131.7Z"/>
<path d="M639.1 130.7A133.6 133.6 0 0 1 639.5 131.7Q515.7 182.0 403.5 254.5A133.6 133.6 0 0 1 402.9 253.6Q515.7 182.0 639.1 130.7Z"/>
<path d="M638.7 129.9A133.6 133.6 0 0 1 639.1 130.7Q515.7 182.0 398.3 245.8A133.6 133.6 0 0 1 397.8 244.9Q515.7 182.0 638.7 129.9Z"/>
<path d="M638.5 129.3A133.6 133.6 0 0 1 638.7 129.9Q515.7 182.0 395.5 240.4A133.6 133.6 0 0 1 395.3 239.9Q515.7 182.0 638.5 129.3Z"/>
<path d="M638.2 128.6A133.6 133.6 0 0 1 638.5 129.3Q515.7 182.0 391.5 231.3A133.6 133.6 0 0 1 391.2 230.5Q515.7 182.0 638.2 128.6Z"/>
<path d="M637.8 127.8A133.6 133.6 0 0 1 638.2 128.6Q515.7 182.0 389.8 226.6A133.6 133.6 0 0 1 389.5 225.8Q515.7 182.0 637.8 127.8Z"/>
<path d="M637.6 127.2A133.6 133.6 0 0 1 637.8 127.8Q515.7 182.0 388.1 221.5A133.6 133.6 0 0 1 387.9 220.8Q515.7 182.0 637.6 127.2Z"/>
<path d="M637.2 126.4A133.6 133.6 0 0 1 637.6 127.2Q515.7 182.0 385.4 211.4A133.6 133.6 0 0 1 385.2 210.6Q515.7 182.0 637.2 126.4Z"/>
<path d="M636.8 125.7A133.6 133.6 0 0 1 637.2 126.4Q515.7 182.0 384.3 206.2A133.6 133.6 0 0 1 384.2 205.3Q515.7 182.0 636.8 125.7Z"/>
<path d="M636.4 124.7A133.6 133.6 0 0 1 636.8 125.7Q515.7 182.0 383.5 201.2A133.6 133.6 0 0 1 383.3 200.1Q515.7 182.0 636.4 124.7Z"/>
<path d="M636.0 123.9A133.6 133.6 0 0 1 636.4 124.7Q515.7 182.0 382.3 190.1A133.6 133.6 0 0 1 382.3 189.1Q515.7 182.0 636.0 123.9Z"/>
<path d="M635.5 122.9A133.6 133.6 0 0 1 636.0 123.9Q515.7 182.0 382.1 178.7A133.6 133.6 0 0 1 382.2 177.5Q515.7 182.0 635.5 122.9Z"/>
<path d="M635.2 122.2A133.6 133.6 0 0 1 635.5 122.9Q515.7 182.0 383.7 161.5A133.6 133.6 0 0 1 383.8 160.7Q515.7 182.0 635.2 122.2Z"/>
<path d="M635.0 121.8A133.6 133.6 0 0 1 635.2 122.2Q515.7 182.0 396.0 122.8A133.6 133.6 0 0 1 396.1 122.4Q515.7 182.0 635.0 121.8Z"/>
<path d="M634.7 121.2A133.6 133.6 0 0 1 635.0 121.8Q515.7 182.0 398.2 118.4A133.6 133.6 0 0 1 398.5 117.8Q515.7 182.0 634.7 121.2Z"/>
<path d="M634.2 120.4A133.6 133.6 0 0 1 634.7 121.2Q515.7 182.0 400.5 114.3A133.6 133.6 0 0 1 401.1 113.4Q515.7 182.0 634.2 120.4Z"/>
<path d="M633.8 119.5A133.6 133.6 0 0 1 634.2 120.4Q515.7 182.0 403.3 109.7A133.6 133.6 0 0 1 403.9 108.9Q515.7 182.0 633.8 119.5Z"/>
<path d="M633.4 118.8A133.6 133.6 0 0 1 633.8 119.5Q515.7 182.0 409.7 100.6A133.6 133.6 0 0 1 410.3 100.0Q515.7 182.0 633.4 118.8Z"/>
<path d="M633.1 118.2A133.6 133.6 0 0 1 633.4 118.8Q515.7 182.0 411.5 98.4A133.6 133.6 0 0 1 412.0 97.8Q515.7 182.0 633.1 118.2Z"/>
<path d="M632.7 117.6A133.6 133.6 0 0 1 633.1 118.2Q515.7 182.0 413.3 96.2A133.6 133.6 0 0 1 413.8 95.7Q515.7 182.0 632.7 117.6Z"/>
<path d="M632.4 116.9A133.6 133.6 0 0 1 632.7 117.6Q515.7 182.0 415.1 94.1A133.6 133.6 0 0 1 415.6 93.6Q515.7 182.0 632.4 116.9Z"/>
<path d="M632.1 116.5A133.6 133.6 0 0 1 632.4 116.9Q515.7 182.0 416.9 92.0A133.6 133.6 0 0 1 417.3 91.6Q515.7 182.0 632.1 116.5Z"/>
<path d="M631.8 115.9A133.6 133.6 0 0 1 632.1 116.5Q515.7 182.0 420.7 88.1A133.6 133.6 0 0 1 421.2 87.6Q515.7 182.0 631.8 115.9Z"/>
<path d="M631.4 115.3A133.6 133.6 0 0 1 631.8 115.9Q515.7 182.0 422.6 86.1A133.6 133.6 0 0 1 423.2 85.6Q515.7 182.0 631.4 115.3Z"/>
<path d="M631.2 114.8A133.6 133.6 0 0 1 631.4 115.3Q515.7 182.0 424.7 84.2A133.6 133.6 0 0 1 425.1 83.8Q515.7 182.0 631.2 114.8Z"/>
<path d="M630.8 114.2A133.6 133.6 0 0 1 631.2 114.8Q515.7 182.0 426.6 82.5A133.6 133.6 0 0 1 427.1 82.0Q515.7 182.0 630.8 114.2Z"/>
<path d="M630.5 113.7A133.6 133.6 0 0 1 630.8 114.2Q515.7 182.0 430.8 78.8A133.6 133.6 0 0 1 431.3 78.5Q515.7 182.0 630.5 113.7Z"/>
<path d="M630.2 113.1A133.6 133.6 0 0 1 630.5 113.7Q515.7 182.0 432.9 77.2A133.6 133.6 0 0 1 433.4 76.7Q515.7 182.0 630.2 113.1Z"/>
<path d="M629.9 112.6A133.6 133.6 0 0 1 630.2 113.1Q515.7 182.0 435.1 75.5A133.6 133.6 0 0 1 435.5 75.1Q515.7 182.0 629.9 112.6Z"/>
<path d="M629.6 112.1A133.6 133.6 0 0 1 629.9 112.6Q515.7 182.0 437.2 73.9A133.6 133.6 0 0 1 437.7 73.6Q515.7 182.0 629.6 112.1Z"/>
<path d="M629.3 111.7A133.6 133.6 0 0 1 629.6 112.1Q515.7 182.0 439.3 72.4A133.6 133.6 0 0 1 439.8 72.0Q515.7 182.0 629.3 111.7Z"/>
<path d="M629.0 111.2A133.6 133.6 0 0 1 629.3 111.7Q515.7 182.0 441.5 70.9A133.6 133.6 0 0 1 442.0 70.6Q515.7 182.0 629.0 111.2Z"/>
</g>
<g fill="#5fa07a" fill-opacity="0.92" stroke="#5fa07a" stroke-width="0.16" stroke-opacity="0.9">
<path d="M648.6 168.6A133.6 133.6 0 0 1 648.8 169.9Q515.7 182.0 626.3 256.9A133.6 133.6 0 0 1 625.7 257.8Q515.7 182.0 648.6 168.6Z"/>
<path d="M648.5 167.7A133.6 133.6 0 0 1 648.6 168.6Q515.7 182.0 449.6 298.1A133.6 133.6 0 0 1 448.9 297.7Q515.7 182.0 648.5 167.7Z"/>
<path d="M648.4 166.3A133.6 133.6 0 0 1 648.5 167.7Q515.7 182.0 382.4 191.3A133.6 133.6 0 0 1 382.3 190.1Q515.7 182.0 648.4 166.3Z"/>
<path d="M648.2 165.3A133.6 133.6 0 0 1 648.4 166.3Q515.7 182.0 386.0 149.8A133.6 133.6 0 0 1 386.3 148.9Q515.7 182.0 648.2 165.3Z"/>
<path d="M648.1 164.4A133.6 133.6 0 0 1 648.2 165.3Q515.7 182.0 388.9 139.9A133.6 133.6 0 0 1 389.1 139.2Q515.7 182.0 648.1 164.4Z"/>
<path d="M648.0 163.7A133.6 133.6 0 0 1 648.1 164.4Q515.7 182.0 403.0 110.2A133.6 133.6 0 0 1 403.3 109.7Q515.7 182.0 648.0 163.7Z"/>
<path d="M647.9 162.4A133.6 133.6 0 0 1 648.0 163.7Q515.7 182.0 406.5 105.0A133.6 133.6 0 0 1 407.2 104.1Q515.7 182.0 647.9 162.4Z"/>
<path d="M647.7 161.6A133.6 133.6 0 0 1 647.9 162.4Q515.7 182.0 418.7 90.1A133.6 133.6 0 0 1 419.2 89.6Q515.7 182.0 647.7 161.6Z"/>
</g>
<path d="M448.8 58.2A140.7 140.7 0 0 1 455.1 55.0L456.7 58.3A137.1 137.1 0 0 0 450.5 61.4Z" fill="#b35b66"/>
<path d="M458.2 53.6A140.7 140.7 0 0 1 500.7 42.1L501.1 45.7A137.1 137.1 0 0 0 459.7 56.9Z" fill="#b35b66"/>
<path d="M503.7 41.8A140.7 140.7 0 0 1 508.8 41.5L509.0 45.1A137.1 137.1 0 0 0 504.0 45.4Z" fill="#5fa07a"/>
<path d="M512.1 41.3A140.7 140.7 0 0 1 513.1 41.3L513.2 44.9A137.1 137.1 0 0 0 512.2 44.9Z" fill="#9a7bb0"/>
<path d="M516.3 41.3A140.7 140.7 0 0 1 530.4 42.1L530.0 45.7A137.1 137.1 0 0 0 516.3 44.9Z" fill="#9a7bb0"/>
<path d="M533.8 42.5A140.7 140.7 0 0 1 547.8 45.0L547.0 48.5A137.1 137.1 0 0 0 533.4 46.0Z" fill="#9a7bb0"/>
<path d="M551.2 45.8A140.7 140.7 0 0 1 582.8 58.4L581.1 61.5A137.1 137.1 0 0 0 550.3 49.3Z" fill="#9a7bb0"/>
<path d="M586.3 60.3A140.7 140.7 0 0 1 595.6 66.2L593.6 69.1A137.1 137.1 0 0 0 584.5 63.4Z" fill="#9a7bb0"/>
<path d="M598.4 68.2A140.7 140.7 0 0 1 615.9 83.2L613.3 85.7A137.1 137.1 0 0 0 596.3 71.1Z" fill="#5b78a8"/>
<path d="M617.9 85.3A140.7 140.7 0 0 1 626.0 94.6L623.1 96.8A137.1 137.1 0 0 0 615.3 87.8Z" fill="#5b78a8"/>
<path d="M627.8 96.9A140.7 140.7 0 0 1 633.2 104.5L630.2 106.5A137.1 137.1 0 0 0 624.9 99.1Z" fill="#5fa07a"/>
<path d="M635.0 107.4A140.7 140.7 0 0 1 654.0 156.4L650.5 157.0A137.1 137.1 0 0 0 632.0 109.3Z" fill="#5fa07a"/>
<path d="M654.7 160.5A140.7 140.7 0 0 1 655.8 169.2L652.2 169.6A137.1 137.1 0 0 0 651.2 161.0Z" fill="#5fa07a"/>
<g fill="#111">
<path d="M656.4 182.3A140.7 140.7 0 0 1 656.3 186.1L652.7 186.0A137.1 137.1 0 0 0 652.8 182.3Z"/>
<path d="M656.2 190.4A140.7 140.7 0 0 1 656.0 192.8L652.4 192.5A137.1 137.1 0 0 0 652.6 190.2Z"/>
<path d="M655.6 196.9A140.7 140.7 0 0 1 654.8 202.8L651.3 202.3A137.1 137.1 0 0 0 652.0 196.5Z"/>
<path d="M654.1 207.2A140.7 140.7 0 0 1 653.1 212.4L649.6 211.6A137.1 137.1 0 0 0 650.6 206.5Z"/>
<path d="M652.1 216.6A140.7 140.7 0 0 1 651.4 219.1L648.0 218.1A137.1 137.1 0 0 0 648.6 215.7Z"/>
<path d="M650.3 222.8A140.7 140.7 0 0 1 649.4 225.8L646.0 224.6A137.1 137.1 0 0 0 646.9 221.8Z"/>
<path d="M648.0 230.0A140.7 140.7 0 0 1 646.1 234.8L642.8 233.5A137.1 137.1 0 0 0 644.6 228.8Z"/>
<path d="M644.5 238.6A140.7 140.7 0 0 1 642.1 243.9L638.8 242.3A137.1 137.1 0 0 0 641.2 237.2Z"/>
<path d="M639.9 248.1A140.7 140.7 0 0 1 638.1 251.4L634.9 249.7A137.1 137.1 0 0 0 636.7 246.4Z"/>
<path d="M636.2 254.6A140.7 140.7 0 0 1 634.6 257.2L631.6 255.3A137.1 137.1 0 0 0 633.1 252.8Z"/>
<path d="M632.2 260.9A140.7 140.7 0 0 1 629.9 264.1L627.0 262.0A137.1 137.1 0 0 0 629.2 258.8Z"/>
<path d="M627.1 267.9A140.7 140.7 0 0 1 622.9 273.1L620.2 270.8A137.1 137.1 0 0 0 624.3 265.7Z"/>
<path d="M620.0 276.4A140.7 140.7 0 0 1 617.8 278.8L615.2 276.3A137.1 137.1 0 0 0 617.4 274.0Z"/>
<path d="M615.3 281.4A140.7 140.7 0 0 1 613.9 282.7L611.4 280.1A137.1 137.1 0 0 0 612.8 278.8Z"/>
<path d="M611.5 285.0A140.7 140.7 0 0 1 610.5 285.9L608.1 283.3A137.1 137.1 0 0 0 609.1 282.4Z"/>
<path d="M607.5 288.6A140.7 140.7 0 0 1 602.3 292.9L600.1 290.1A137.1 137.1 0 0 0 605.1 285.9Z"/>
<path d="M598.4 295.8A140.7 140.7 0 0 1 596.6 297.1L594.5 294.2A137.1 137.1 0 0 0 596.3 292.9Z"/>
<path d="M594.2 298.8A140.7 140.7 0 0 1 592.6 299.8L590.6 296.8A137.1 137.1 0 0 0 592.2 295.8Z"/>
<path d="M589.3 301.9A140.7 140.7 0 0 1 588.0 302.7L586.2 299.6A137.1 137.1 0 0 0 587.4 298.8Z"/>
<path d="M585.1 304.4A140.7 140.7 0 0 1 582.8 305.7L581.1 302.5A137.1 137.1 0 0 0 583.3 301.3Z"/>
<path d="M579.3 307.5A140.7 140.7 0 0 1 577.9 308.2L576.3 305.0A137.1 137.1 0 0 0 577.7 304.3Z"/>
<path d="M574.4 309.9A140.7 140.7 0 0 1 572.8 310.6L571.4 307.3A137.1 137.1 0 0 0 572.9 306.6Z"/>
<path d="M569.4 312.0A140.7 140.7 0 0 1 566.2 313.3L564.9 310.0A137.1 137.1 0 0 0 568.1 308.7Z"/>
<path d="M561.6 315.0A140.7 140.7 0 0 1 558.2 316.1L557.1 312.7A137.1 137.1 0 0 0 560.5 311.6Z"/>
<path d="M553.9 317.4A140.7 140.7 0 0 1 551.7 318.0L550.8 314.5A137.1 137.1 0 0 0 552.9 314.0Z"/>
<path d="M548.0 318.9A140.7 140.7 0 0 1 546.8 319.2L546.1 315.7A137.1 137.1 0 0 0 547.2 315.4Z"/>
<path d="M543.7 319.9A140.7 140.7 0 0 1 542.2 320.2L541.5 316.7A137.1 137.1 0 0 0 543.0 316.4Z"/>
<path d="M538.8 320.8A140.7 140.7 0 0 1 537.2 321.1L536.6 317.5A137.1 137.1 0 0 0 538.2 317.2Z"/>
<path d="M533.1 321.6A140.7 140.7 0 0 1 528.6 322.1L528.3 318.5A137.1 137.1 0 0 0 532.7 318.0Z"/>
<path d="M525.0 322.4A140.7 140.7 0 0 1 523.0 322.5L522.8 318.9A137.1 137.1 0 0 0 524.7 318.8Z"/>
<path d="M519.3 322.7A140.7 140.7 0 0 1 516.2 322.7L516.2 319.1A137.1 137.1 0 0 0 519.2 319.1Z"/>
<path d="M512.5 322.7A140.7 140.7 0 0 1 511.3 322.6L511.4 319.0A137.1 137.1 0 0 0 512.6 319.1Z"/>
<path d="M508.0 322.5A140.7 140.7 0 0 1 506.8 322.4L507.0 318.8A137.1 137.1 0 0 0 508.2 318.9Z"/>
<path d="M503.4 322.2A140.7 140.7 0 0 1 499.0 321.7L499.4 318.1A137.1 137.1 0 0 0 503.7 318.6Z"/>
<path d="M495.6 321.3A140.7 140.7 0 0 1 494.3 321.1L494.9 317.5A137.1 137.1 0 0 0 496.1 317.7Z"/>
<path d="M491.3 320.6A140.7 140.7 0 0 1 489.7 320.3L490.3 316.7A137.1 137.1 0 0 0 491.9 317.0Z"/>
<path d="M486.3 319.6A140.7 140.7 0 0 1 485.1 319.3L485.8 315.8A137.1 137.1 0 0 0 487.0 316.1Z"/>
<path d="M481.2 318.4A140.7 140.7 0 0 1 480.0 318.1L480.9 314.6A137.1 137.1 0 0 0 482.1 314.9Z"/>
<path d="M476.7 317.2A140.7 140.7 0 0 1 475.6 316.9L476.6 313.4A137.1 137.1 0 0 0 477.7 313.7Z"/>
<path d="M472.1 315.8A140.7 140.7 0 0 1 469.7 315.0L470.8 311.6A137.1 137.1 0 0 0 473.2 312.3Z"/>
<path d="M465.7 313.5A140.7 140.7 0 0 1 464.2 313.0L465.6 309.6A137.1 137.1 0 0 0 467.0 310.2Z"/>
<path d="M461.2 311.7A140.7 140.7 0 0 1 459.2 310.9L460.7 307.6A137.1 137.1 0 0 0 462.6 308.4Z"/>
<path d="M455.0 308.9A140.7 140.7 0 0 1 452.9 307.9L454.5 304.7A137.1 137.1 0 0 0 456.5 305.7Z"/>
<path d="M450.4 306.6A140.7 140.7 0 0 1 449.3 306.1L451.0 302.9A137.1 137.1 0 0 0 452.1 303.4Z"/>
<path d="M446.0 304.2A140.7 140.7 0 0 1 444.7 303.4L446.5 300.3A137.1 137.1 0 0 0 447.8 301.1Z"/>
<path d="M440.7 301.0A140.7 140.7 0 0 1 436.2 298.1L438.3 295.1A137.1 137.1 0 0 0 442.6 298.0Z"/>
<path d="M432.6 295.5A140.7 140.7 0 0 1 429.1 292.9L431.3 290.0A137.1 137.1 0 0 0 434.7 292.6Z"/>
<path d="M426.2 290.6A140.7 140.7 0 0 1 423.6 288.4L426.0 285.6A137.1 137.1 0 0 0 428.5 287.8Z"/>
<path d="M420.5 285.6A140.7 140.7 0 0 1 418.5 283.7L420.9 281.1A137.1 137.1 0 0 0 422.9 282.9Z"/>
<path d="M415.6 280.9A140.7 140.7 0 0 1 413.0 278.2L415.6 275.7A137.1 137.1 0 0 0 418.1 278.3Z"/>
<path d="M410.1 275.0A140.7 140.7 0 0 1 407.9 272.5L410.7 270.1A137.1 137.1 0 0 0 412.8 272.6Z"/>
<path d="M405.4 269.4A140.7 140.7 0 0 1 402.5 265.6L405.4 263.5A137.1 137.1 0 0 0 408.3 267.2Z"/>
<path d="M400.3 262.5A140.7 140.7 0 0 1 399.6 261.5L402.6 259.5A137.1 137.1 0 0 0 403.3 260.4Z"/>
<path d="M397.5 258.4A140.7 140.7 0 0 1 396.5 256.7L399.5 254.8A137.1 137.1 0 0 0 400.6 256.4Z"/>
<path d="M394.7 253.8A140.7 140.7 0 0 1 394.1 252.7L397.2 250.9A137.1 137.1 0 0 0 397.8 251.9Z"/>
<path d="M392.1 249.1A140.7 140.7 0 0 1 390.8 246.7L394.0 245.0A137.1 137.1 0 0 0 395.2 247.4Z"/>
<path d="M389.2 243.5A140.7 140.7 0 0 1 388.5 242.2L391.8 240.6A137.1 137.1 0 0 0 392.4 241.9Z"/>
<path d="M387.0 239.0A140.7 140.7 0 0 1 386.6 237.8L389.9 236.4A137.1 137.1 0 0 0 390.3 237.5Z"/>
<path d="M385.0 234.0A140.7 140.7 0 0 1 384.3 232.4L387.7 231.1A137.1 137.1 0 0 0 388.3 232.6Z"/>
<path d="M383.1 229.0A140.7 140.7 0 0 1 382.5 227.3L385.9 226.2A137.1 137.1 0 0 0 386.5 227.8Z"/>
<path d="M381.3 223.6A140.7 140.7 0 0 1 380.8 222.1L384.3 221.0A137.1 137.1 0 0 0 384.7 222.5Z"/>
<path d="M379.7 218.2A140.7 140.7 0 0 1 379.4 216.8L382.9 215.9A137.1 137.1 0 0 0 383.2 217.3Z"/>
<path d="M378.5 213.0A140.7 140.7 0 0 1 378.1 211.4L381.6 210.6A137.1 137.1 0 0 0 382.0 212.2Z"/>
<path d="M377.3 207.5A140.7 140.7 0 0 1 377.0 205.8L380.6 205.2A137.1 137.1 0 0 0 380.9 206.8Z"/>
<path d="M376.5 202.2A140.7 140.7 0 0 1 376.2 200.3L379.8 199.8A137.1 137.1 0 0 0 380.0 201.7Z"/>
<path d="M375.8 197.3A140.7 140.7 0 0 1 375.7 196.1L379.3 195.7A137.1 137.1 0 0 0 379.4 196.9Z"/>
<path d="M375.3 191.8A140.7 140.7 0 0 1 375.1 186.9L378.7 186.8A137.1 137.1 0 0 0 378.9 191.6Z"/>
<path d="M375.0 183.0A140.7 140.7 0 0 1 375.0 181.8L378.6 181.8A137.1 137.1 0 0 0 378.6 183.0Z"/>
<path d="M375.0 178.5A140.7 140.7 0 0 1 375.1 175.6L378.7 175.8A137.1 137.1 0 0 0 378.6 178.6Z"/>
<path d="M375.4 171.6A140.7 140.7 0 0 1 375.5 170.0L379.1 170.3A137.1 137.1 0 0 0 379.0 171.9Z"/>
<path d="M375.9 165.8A140.7 140.7 0 0 1 376.1 164.3L379.7 164.8A137.1 137.1 0 0 0 379.5 166.2Z"/>
<path d="M376.7 160.4A140.7 140.7 0 0 1 377.1 157.8L380.6 158.4A137.1 137.1 0 0 0 380.2 160.9Z"/>
<path d="M377.8 154.0A140.7 140.7 0 0 1 378.3 151.7L381.8 152.5A137.1 137.1 0 0 0 381.4 154.7Z"/>
<path d="M379.2 148.1A140.7 140.7 0 0 1 379.8 145.7L383.2 146.6A137.1 137.1 0 0 0 382.6 148.9Z"/>
<path d="M380.8 142.0A140.7 140.7 0 0 1 381.2 140.8L384.6 141.8A137.1 137.1 0 0 0 384.3 143.0Z"/>
<path d="M382.2 137.6A140.7 140.7 0 0 1 382.9 135.4L386.3 136.6A137.1 137.1 0 0 0 385.6 138.8Z"/>
<path d="M384.1 132.3A140.7 140.7 0 0 1 384.5 131.1L387.9 132.4A137.1 137.1 0 0 0 387.4 133.6Z"/>
<path d="M385.6 128.5A140.7 140.7 0 0 1 386.1 127.3L389.4 128.7A137.1 137.1 0 0 0 388.9 129.8Z"/>
<path d="M387.5 124.1A140.7 140.7 0 0 1 388.0 123.0L391.3 124.5A137.1 137.1 0 0 0 390.8 125.6Z"/>
<path d="M389.6 119.6A140.7 140.7 0 0 1 390.1 118.5L393.3 120.1A137.1 137.1 0 0 0 392.8 121.2Z"/>
<path d="M392.0 115.0A140.7 140.7 0 0 1 392.7 113.7L395.8 115.5A137.1 137.1 0 0 0 395.1 116.7Z"/>
<path d="M394.4 110.7A140.7 140.7 0 0 1 395.0 109.7L398.1 111.5A137.1 137.1 0 0 0 397.5 112.6Z"/>
<path d="M397.0 106.4A140.7 140.7 0 0 1 398.3 104.4L401.3 106.4A137.1 137.1 0 0 0 400.1 108.3Z"/>
<path d="M400.7 100.9A140.7 140.7 0 0 1 401.9 99.2L404.9 101.3A137.1 137.1 0 0 0 403.7 102.9Z"/>
<path d="M404.0 96.4A140.7 140.7 0 0 1 404.8 95.5L407.6 97.7A137.1 137.1 0 0 0 406.9 98.6Z"/>
<path d="M405.8 94.1A140.7 140.7 0 0 1 406.6 93.1L409.4 95.4A137.1 137.1 0 0 0 408.7 96.3Z"/>
<path d="M407.7 91.8A140.7 140.7 0 0 1 408.5 90.9L411.2 93.2A137.1 137.1 0 0 0 410.5 94.1Z"/>
<path d="M409.6 89.6A140.7 140.7 0 0 1 410.4 88.7L413.1 91.1A137.1 137.1 0 0 0 412.3 92.0Z"/>
<path d="M411.5 87.5A140.7 140.7 0 0 1 412.3 86.6L415.0 89.0A137.1 137.1 0 0 0 414.2 89.9Z"/>
<path d="M413.4 85.4A140.7 140.7 0 0 1 414.3 84.5L416.9 87.0A137.1 137.1 0 0 0 416.0 87.9Z"/>
<path d="M415.5 83.3A140.7 140.7 0 0 1 416.3 82.4L418.9 85.0A137.1 137.1 0 0 0 418.0 85.8Z"/>
<path d="M417.5 81.2A140.7 140.7 0 0 1 418.4 80.4L420.9 83.0A137.1 137.1 0 0 0 420.0 83.8Z"/>
<path d="M419.6 79.2A140.7 140.7 0 0 1 420.5 78.4L422.9 81.1A137.1 137.1 0 0 0 422.0 81.9Z"/>
<path d="M421.7 77.3A140.7 140.7 0 0 1 422.6 76.5L425.0 79.2A137.1 137.1 0 0 0 424.1 80.0Z"/>
<path d="M423.9 75.4A140.7 140.7 0 0 1 424.8 74.6L427.1 77.3A137.1 137.1 0 0 0 426.2 78.1Z"/>
<path d="M426.1 73.5A140.7 140.7 0 0 1 427.0 72.8L429.3 75.6A137.1 137.1 0 0 0 428.4 76.3Z"/>
<path d="M428.3 71.8A140.7 140.7 0 0 1 429.2 71.0L431.5 73.8A137.1 137.1 0 0 0 430.5 74.6Z"/>
<path d="M430.5 70.0A140.7 140.7 0 0 1 431.5 69.3L433.7 72.1A137.1 137.1 0 0 0 432.7 72.9Z"/>
<path d="M432.8 68.3A140.7 140.7 0 0 1 433.8 67.6L435.9 70.5A137.1 137.1 0 0 0 434.9 71.2Z"/>
<path d="M435.0 66.7A140.7 140.7 0 0 1 436.0 66.0L438.1 69.0A137.1 137.1 0 0 0 437.1 69.7Z"/>
<path d="M437.3 65.1A140.7 140.7 0 0 1 438.3 64.5L440.3 67.5A137.1 137.1 0 0 0 439.3 68.1Z"/>
</g>
<text x="660.48" y="184.27" font-size="6.6" fill="#000" text-anchor="start" font-weight="normal" transform="rotate(0.9 660.48 184.27)" dy="0.35em">TYMP</text>
<text x="660.16" y="191.85" font-size="6.6" fill="#000" text-anchor="start" font-weight="normal" transform="rotate(3.9 660.16 191.85)" dy="0.35em">MEPE</text>
<text x="659.33" y="200.40" font-size="6.6" fill="#000" text-anchor="start" font-weight="normal" transform="rotate(7.3 659.33 200.40)" dy="0.35em">MMP12</text>
<text x="657.64" y="210.62" font-size="6.6" fill="#000" text-anchor="start" font-weight="normal" transform="rotate(11.4 657.64 210.62)" dy="0.35em">TGFA</text>
<text x="655.73" y="218.87" font-size="6.6" fill="#000" text-anchor="start" font-weight="normal" transform="rotate(14.75 655.73 218.87)" dy="0.35em">ST6GAL1</text>
<text x="653.80" y="225.54" font-size="6.6" fill="#000" text-anchor="start" font-weight="normal" transform="rotate(17.5 653.80 225.54)" dy="0.35em">LGMN</text>
<text x="650.88" y="233.89" font-size="6.6" fill="#000" text-anchor="start" font-weight="normal" transform="rotate(21 650.88 233.89)" dy="0.35em">CCL7</text>
<text x="647.04" y="242.97" font-size="6.6" fill="#000" text-anchor="start" font-weight="normal" transform="rotate(24.9 647.04 242.97)" dy="0.35em">MZB1</text>
<text x="642.59" y="251.76" font-size="6.6" fill="#000" text-anchor="start" font-weight="normal" transform="rotate(28.8 642.59 251.76)" dy="0.35em">TXNDC5</text>
<text x="638.90" y="258.09" font-size="6.6" fill="#000" text-anchor="start" font-weight="normal" transform="rotate(31.7 638.90 258.09)" dy="0.35em">PLIN3</text>
<text x="634.46" y="264.85" font-size="6.6" fill="#000" text-anchor="start" font-weight="normal" transform="rotate(34.9 634.46 264.85)" dy="0.35em">MVK</text>
<text x="628.23" y="273.13" font-size="6.6" fill="#000" text-anchor="start" font-weight="normal" transform="rotate(39 628.23 273.13)" dy="0.35em">DPY30</text>
<text x="621.94" y="280.38" font-size="6.6" fill="#000" text-anchor="start" font-weight="normal" transform="rotate(42.8 621.94 280.38)" dy="0.35em">MCFD2</text>
<text x="617.52" y="284.96" font-size="6.6" fill="#000" text-anchor="start" font-weight="normal" transform="rotate(45.32 617.52 284.96)" dy="0.35em">TRIAP1</text>
<text x="613.82" y="288.48" font-size="6.6" fill="#000" text-anchor="start" font-weight="normal" transform="rotate(47.34 613.82 288.48)" dy="0.35em">FKBP4</text>
<text x="607.51" y="293.97" font-size="6.6" fill="#000" text-anchor="start" font-weight="normal" transform="rotate(50.65 607.51 293.97)" dy="0.35em">NUCB2</text>
<text x="599.91" y="299.80" font-size="6.6" fill="#000" text-anchor="start" font-weight="normal" transform="rotate(54.44 599.91 299.80)" dy="0.35em">DDAH1</text>
<text x="595.66" y="302.72" font-size="6.6" fill="#000" text-anchor="start" font-weight="normal" transform="rotate(56.48 595.66 302.72)" dy="0.35em">FABP5</text>
<text x="590.80" y="305.80" font-size="6.6" fill="#000" text-anchor="start" font-weight="normal" transform="rotate(58.76 590.80 305.80)" dy="0.35em">BRK1</text>
<text x="585.92" y="308.63" font-size="6.6" fill="#000" text-anchor="start" font-weight="normal" transform="rotate(60.99 585.92 308.63)" dy="0.35em">TGFB1</text>
<text x="580.42" y="311.53" font-size="6.6" fill="#000" text-anchor="start" font-weight="normal" transform="rotate(63.45 580.42 311.53)" dy="0.35em">SIAE</text>
<text x="575.29" y="313.97" font-size="6.6" fill="#000" text-anchor="start" font-weight="normal" transform="rotate(65.7 575.29 313.97)" dy="0.35em">THY1</text>
<text x="569.33" y="316.50" font-size="6.6" fill="#000" text-anchor="start" font-weight="normal" transform="rotate(68.26 569.33 316.50)" dy="0.35em">LGALS1</text>
<text x="561.19" y="319.47" font-size="6.6" fill="#000" text-anchor="start" font-weight="normal" transform="rotate(71.69 561.19 319.47)" dy="0.35em">NOS3</text>
<text x="553.86" y="321.68" font-size="6.6" fill="#000" text-anchor="start" font-weight="normal" transform="rotate(74.72 553.86 321.68)" dy="0.35em">IL18</text>
<text x="548.37" y="323.07" font-size="6.6" fill="#000" text-anchor="start" font-weight="normal" transform="rotate(76.96 548.37 323.07)" dy="0.35em">FCN3</text>
<text x="543.73" y="324.06" font-size="6.6" fill="#000" text-anchor="start" font-weight="normal" transform="rotate(78.84 543.73 324.06)" dy="0.35em">CCL17</text>
<text x="538.63" y="324.97" font-size="6.6" fill="#000" text-anchor="start" font-weight="normal" transform="rotate(80.89 538.63 324.97)" dy="0.35em">CD48</text>
<text x="531.31" y="325.96" font-size="6.6" fill="#000" text-anchor="start" font-weight="normal" transform="rotate(83.81 531.31 325.96)" dy="0.35em">LGALS4</text>
<text x="524.21" y="326.55" font-size="6.6" fill="#000" text-anchor="start" font-weight="normal" transform="rotate(86.63 524.21 326.55)" dy="0.35em">CD4</text>
<text x="517.80" y="326.78" font-size="6.6" fill="#000" text-anchor="start" font-weight="normal" transform="rotate(89.17 517.80 326.78)" dy="0.35em">FABP1</text>
<text x="511.76" y="326.75" font-size="6.6" fill="#000" text-anchor="end" font-weight="normal" transform="rotate(-88.44 511.76 326.75)" dy="0.35em">RRM2</text>
<text x="507.19" y="326.55" font-size="6.6" fill="#000" text-anchor="end" font-weight="normal" transform="rotate(-86.63 507.19 326.55)" dy="0.35em">LTA4H</text>
<text x="500.77" y="326.03" font-size="6.6" fill="#000" text-anchor="end" font-weight="normal" transform="rotate(-84.08 500.77 326.03)" dy="0.35em">CCL15</text>
<text x="494.35" y="325.22" font-size="6.6" fill="#000" text-anchor="end" font-weight="normal" transform="rotate(-81.52 494.35 325.22)" dy="0.35em">OMG</text>
<text x="489.73" y="324.45" font-size="6.6" fill="#000" text-anchor="end" font-weight="normal" transform="rotate(-79.67 489.73 324.45)" dy="0.35em">IL6</text>
<text x="484.78" y="323.46" font-size="6.6" fill="#000" text-anchor="end" font-weight="normal" transform="rotate(-77.67 484.78 323.46)" dy="0.35em">COX5B</text>
<text x="479.59" y="322.23" font-size="6.6" fill="#000" text-anchor="end" font-weight="normal" transform="rotate(-75.56 479.59 322.23)" dy="0.35em">CXCL13</text>
<text x="474.99" y="320.96" font-size="6.6" fill="#000" text-anchor="end" font-weight="normal" transform="rotate(-73.67 474.99 320.96)" dy="0.35em">NRP2</text>
<text x="469.56" y="319.25" font-size="6.6" fill="#000" text-anchor="end" font-weight="normal" transform="rotate(-71.42 469.56 319.25)" dy="0.35em">TFF2</text>
<text x="463.50" y="317.06" font-size="6.6" fill="#000" text-anchor="end" font-weight="normal" transform="rotate(-68.87 463.50 317.06)" dy="0.35em">ANGPT2</text>
<text x="458.61" y="315.07" font-size="6.6" fill="#000" text-anchor="end" font-weight="normal" transform="rotate(-66.78 458.61 315.07)" dy="0.35em">MARCO</text>
<text x="452.13" y="312.10" font-size="6.6" fill="#000" text-anchor="end" font-weight="normal" transform="rotate(-63.96 452.13 312.10)" dy="0.35em">REG3A</text>
<text x="447.94" y="309.97" font-size="6.6" fill="#000" text-anchor="end" font-weight="normal" transform="rotate(-62.1 447.94 309.97)" dy="0.35em">IDUA</text>
<text x="443.30" y="307.40" font-size="6.6" fill="#000" text-anchor="end" font-weight="normal" transform="rotate(-60 443.30 307.40)" dy="0.35em">KYNU</text>
<text x="436.20" y="303.02" font-size="6.6" fill="#000" text-anchor="end" font-weight="normal" transform="rotate(-56.7 436.20 303.02)" dy="0.35em">FOLR2</text>
<text x="428.36" y="297.49" font-size="6.6" fill="#000" text-anchor="end" font-weight="normal" transform="rotate(-52.9 428.36 297.49)" dy="0.35em">TNFRSF13B</text>
<text x="422.24" y="292.60" font-size="6.6" fill="#000" text-anchor="end" font-weight="normal" transform="rotate(-49.8 422.24 292.60)" dy="0.35em">TFRC</text>
<text x="416.65" y="287.62" font-size="6.6" fill="#000" text-anchor="end" font-weight="normal" transform="rotate(-46.84 416.65 287.62)" dy="0.35em">TNFRSF10A</text>
<text x="411.33" y="282.37" font-size="6.6" fill="#000" text-anchor="end" font-weight="normal" transform="rotate(-43.88 411.33 282.37)" dy="0.35em">TNFRSF11A</text>
<text x="405.89" y="276.39" font-size="6.6" fill="#000" text-anchor="end" font-weight="normal" transform="rotate(-40.68 405.89 276.39)" dy="0.35em">OGN</text>
<text x="400.71" y="270.01" font-size="6.6" fill="#000" text-anchor="end" font-weight="normal" transform="rotate(-37.43 400.71 270.01)" dy="0.35em">EDA2R</text>
<text x="396.58" y="264.33" font-size="6.6" fill="#000" text-anchor="end" font-weight="normal" transform="rotate(-34.65 396.58 264.33)" dy="0.35em">DCTPP1</text>
<text x="393.54" y="259.74" font-size="6.6" fill="#000" text-anchor="end" font-weight="normal" transform="rotate(-32.47 393.54 259.74)" dy="0.35em">LY6D</text>
<text x="390.83" y="255.32" font-size="6.6" fill="#000" text-anchor="end" font-weight="normal" transform="rotate(-30.42 390.83 255.32)" dy="0.35em">FABP6</text>
<text x="387.78" y="249.85" font-size="6.6" fill="#000" text-anchor="end" font-weight="normal" transform="rotate(-27.94 387.78 249.85)" dy="0.35em">COLEC12</text>
<text x="385.14" y="244.61" font-size="6.6" fill="#000" text-anchor="end" font-weight="normal" transform="rotate(-25.62 385.14 244.61)" dy="0.35em">ENAH</text>
<text x="383.04" y="240.04" font-size="6.6" fill="#000" text-anchor="end" font-weight="normal" transform="rotate(-23.63 383.04 240.04)" dy="0.35em">LBR</text>
<text x="380.82" y="234.67" font-size="6.6" fill="#000" text-anchor="end" font-weight="normal" transform="rotate(-21.33 380.82 234.67)" dy="0.35em">CRELD2</text>
<text x="378.91" y="229.50" font-size="6.6" fill="#000" text-anchor="end" font-weight="normal" transform="rotate(-19.15 378.91 229.50)" dy="0.35em">TMSB10</text>
<text x="377.12" y="224.00" font-size="6.6" fill="#000" text-anchor="end" font-weight="normal" transform="rotate(-16.86 377.12 224.00)" dy="0.35em">CD40</text>
<text x="375.58" y="218.52" font-size="6.6" fill="#000" text-anchor="end" font-weight="normal" transform="rotate(-14.61 375.58 218.52)" dy="0.35em">WARS</text>
<text x="374.27" y="213.07" font-size="6.6" fill="#000" text-anchor="end" font-weight="normal" transform="rotate(-12.39 374.27 213.07)" dy="0.35em">KLK8</text>
<text x="373.14" y="207.34" font-size="6.6" fill="#000" text-anchor="end" font-weight="normal" transform="rotate(-10.08 373.14 207.34)" dy="0.35em">PAM</text>
<text x="372.26" y="201.83" font-size="6.6" fill="#000" text-anchor="end" font-weight="normal" transform="rotate(-7.87 372.26 201.83)" dy="0.35em">ABL1</text>
<text x="371.69" y="197.14" font-size="6.6" fill="#000" text-anchor="end" font-weight="normal" transform="rotate(-6 371.69 197.14)" dy="0.35em">YES1</text>
<text x="371.10" y="189.58" font-size="6.6" fill="#000" text-anchor="end" font-weight="normal" transform="rotate(-3 371.10 189.58)" dy="0.35em">GFER</text>
<text x="370.90" y="182.38" font-size="6.6" fill="#000" text-anchor="end" font-weight="normal" transform="rotate(-0.15 370.90 182.38)" dy="0.35em">EIF4G1</text>
<text x="370.99" y="176.92" font-size="6.6" fill="#000" text-anchor="end" font-weight="normal" transform="rotate(2.01 370.99 176.92)" dy="0.35em">PPP3R1</text>
<text x="371.36" y="170.49" font-size="6.6" fill="#000" text-anchor="end" font-weight="normal" transform="rotate(4.56 371.36 170.49)" dy="0.35em">FKBP5</text>
<text x="371.95" y="164.58" font-size="6.6" fill="#000" text-anchor="end" font-weight="normal" transform="rotate(6.91 371.95 164.58)" dy="0.35em">ITGB1BP2</text>
<text x="372.84" y="158.40" font-size="6.6" fill="#000" text-anchor="end" font-weight="normal" transform="rotate(9.38 372.84 158.40)" dy="0.35em">PLA2G7</text>
<text x="374.04" y="151.99" font-size="6.6" fill="#000" text-anchor="end" font-weight="normal" transform="rotate(11.96 374.04 151.99)" dy="0.35em">SAMD9L</text>
<text x="375.49" y="145.84" font-size="6.6" fill="#000" text-anchor="end" font-weight="normal" transform="rotate(14.46 375.49 145.84)" dy="0.35em">ARSA</text>
<text x="377.07" y="140.20" font-size="6.6" fill="#000" text-anchor="end" font-weight="normal" transform="rotate(16.78 377.07 140.20)" dy="0.35em">DDX58</text>
<text x="378.67" y="135.22" font-size="6.6" fill="#000" text-anchor="end" font-weight="normal" transform="rotate(18.85 378.67 135.22)" dy="0.35em">SOD2</text>
<text x="380.46" y="130.25" font-size="6.6" fill="#000" text-anchor="end" font-weight="normal" transform="rotate(20.94 380.46 130.25)" dy="0.35em">CSF3</text>
<text x="382.04" y="126.31" font-size="6.6" fill="#000" text-anchor="end" font-weight="normal" transform="rotate(22.62 382.04 126.31)" dy="0.35em">CTSH</text>
<text x="384.00" y="121.81" font-size="6.6" fill="#000" text-anchor="end" font-weight="normal" transform="rotate(24.56 384.00 121.81)" dy="0.35em">PTPN1</text>
<text x="386.19" y="117.23" font-size="6.6" fill="#000" text-anchor="end" font-weight="normal" transform="rotate(26.57 386.19 117.23)" dy="0.35em">CORO1A</text>
<text x="388.74" y="112.37" font-size="6.6" fill="#000" text-anchor="end" font-weight="normal" transform="rotate(28.74 388.74 112.37)" dy="0.35em">MAPK9</text>
<text x="391.17" y="108.12" font-size="6.6" fill="#000" text-anchor="end" font-weight="normal" transform="rotate(30.68 391.17 108.12)" dy="0.35em">TXNRD1</text>
<text x="394.25" y="103.16" font-size="6.6" fill="#000" text-anchor="end" font-weight="normal" transform="rotate(32.99 394.25 103.16)" dy="0.35em">P4HB</text>
<text x="398.01" y="97.65" font-size="6.6" fill="#000" text-anchor="end" font-weight="normal" transform="rotate(35.63 398.01 97.65)" dy="0.35em">ACAA1</text>
<text x="401.13" y="93.45" font-size="6.6" fill="#000" text-anchor="end" font-weight="normal" transform="rotate(37.7 401.13 93.45)" dy="0.35em">DNMBP</text>
<text x="403.04" y="91.04" font-size="6.6" fill="#000" text-anchor="end" font-weight="normal" transform="rotate(38.92 403.04 91.04)" dy="0.35em">SERPINB8</text>
<text x="404.95" y="88.72" font-size="6.6" fill="#000" text-anchor="end" font-weight="normal" transform="rotate(40.11 404.95 88.72)" dy="0.35em">S100A12</text>
<text x="406.91" y="86.44" font-size="6.6" fill="#000" text-anchor="end" font-weight="normal" transform="rotate(41.3 406.91 86.44)" dy="0.35em">CXCL9</text>
<text x="408.87" y="84.25" font-size="6.6" fill="#000" text-anchor="end" font-weight="normal" transform="rotate(42.46 408.87 84.25)" dy="0.35em">STX8</text>
<text x="410.88" y="82.10" font-size="6.6" fill="#000" text-anchor="end" font-weight="normal" transform="rotate(43.62 410.88 82.10)" dy="0.35em">KRT18</text>
<text x="412.97" y="79.95" font-size="6.6" fill="#000" text-anchor="end" font-weight="normal" transform="rotate(44.81 412.97 79.95)" dy="0.35em">AKR1B1</text>
<text x="415.12" y="77.84" font-size="6.6" fill="#000" text-anchor="end" font-weight="normal" transform="rotate(46.0 415.12 77.84)" dy="0.35em">FGF23</text>
<text x="417.25" y="75.82" font-size="6.6" fill="#000" text-anchor="end" font-weight="normal" transform="rotate(47.16 417.25 75.82)" dy="0.35em">ICAM5</text>
<text x="419.42" y="73.85" font-size="6.6" fill="#000" text-anchor="end" font-weight="normal" transform="rotate(48.32 419.42 73.85)" dy="0.35em">PLAU</text>
<text x="421.69" y="71.87" font-size="6.6" fill="#000" text-anchor="end" font-weight="normal" transform="rotate(49.51 421.69 71.87)" dy="0.35em">IL1RN</text>
<text x="423.94" y="69.99" font-size="6.6" fill="#000" text-anchor="end" font-weight="normal" transform="rotate(50.68 423.94 69.99)" dy="0.35em">CA13</text>
<text x="426.23" y="68.15" font-size="6.6" fill="#000" text-anchor="end" font-weight="normal" transform="rotate(51.84 426.23 68.15)" dy="0.35em">SCARF2</text>
<text x="428.56" y="66.36" font-size="6.6" fill="#000" text-anchor="end" font-weight="normal" transform="rotate(53.0 428.56 66.36)" dy="0.35em">ITGA5</text>
<text x="430.86" y="64.66" font-size="6.6" fill="#000" text-anchor="end" font-weight="normal" transform="rotate(54.13 430.86 64.66)" dy="0.35em">IGFBP4</text>
<text x="433.20" y="63.00" font-size="6.6" fill="#000" text-anchor="end" font-weight="normal" transform="rotate(55.27 433.20 63.00)" dy="0.35em">ACP5</text>
<text x="435.57" y="61.39" font-size="6.6" fill="#000" text-anchor="end" font-weight="normal" transform="rotate(56.4 435.57 61.39)" dy="0.35em">TPP1</text>
<text x="450.07" y="52.92" font-size="6.2" fill="#000" text-anchor="end" font-weight="normal" transform="rotate(63.05 450.07 52.92)" dy="0.35em">COPD</text>
<text x="477.98" y="42.20" font-size="6.2" fill="#000" text-anchor="end" font-weight="normal" transform="rotate(74.9 477.98 42.20)" dy="0.35em">Pneumonia</text>
<text x="505.98" y="37.53" font-size="6.2" fill="#000" text-anchor="end" font-weight="normal" transform="rotate(86.15 505.98 37.53)" dy="0.35em">IHD</text>
<text x="512.54" y="37.23" font-size="6.2" fill="#000" text-anchor="end" font-weight="normal" transform="rotate(88.75 512.54 37.23)" dy="0.35em">Osteoporosis</text>
<text x="523.59" y="37.42" font-size="6.2" fill="#000" text-anchor="start" font-weight="normal" transform="rotate(-86.88 523.59 37.42)" dy="0.35em">PAD</text>
<text x="541.59" y="39.53" font-size="6.2" fill="#000" text-anchor="start" font-weight="normal" transform="rotate(-79.7 541.59 39.53)" dy="0.35em">Arrhythmias</text>
<text x="568.89" y="47.32" font-size="6.2" fill="#000" text-anchor="start" font-weight="normal" transform="rotate(-68.45 568.89 47.32)" dy="0.35em">Heart Failure</text>
<text x="593.18" y="59.67" font-size="6.2" fill="#000" text-anchor="start" font-weight="normal" transform="rotate(-57.65 593.18 59.67)" dy="0.35em">Anemia</text>
<text x="610.12" y="72.22" font-size="6.2" fill="#000" text-anchor="start" font-weight="normal" transform="rotate(-49.3 610.12 72.22)" dy="0.35em">LE</text>
<text x="625.15" y="87.19" font-size="6.2" fill="#000" text-anchor="start" font-weight="normal" transform="rotate(-40.9 625.15 87.19)" dy="0.35em">RA</text>
<text x="633.88" y="98.33" font-size="6.2" fill="#000" text-anchor="start" font-weight="normal" transform="rotate(-35.3 633.88 98.33)" dy="0.35em">T2D</text>
<text x="650.65" y="129.52" font-size="6.2" fill="#000" text-anchor="start" font-weight="normal" transform="rotate(-21.25 650.65 129.52)" dy="0.35em">CKD</text>
<text x="659.42" y="164.35" font-size="6.2" fill="#000" text-anchor="start" font-weight="normal" transform="rotate(-7.0 659.42 164.35)" dy="0.35em">NAFLD</text>
<text x="7.00" y="178.40" font-size="13" fill="#000" text-anchor="start" font-weight="bold">C</text>
<rect x="41.5" y="188.9" width="30.9" height="140.7" fill="#5f70a1"/>
<text x="61.60" y="259.30" font-size="13.2" fill="#fff" text-anchor="middle" font-weight="normal" transform="rotate(-90 61.60 259.30)">AP index</text>
<rect x="254.9" y="188.9" width="31.4" height="140.7" fill="#9e6166"/>
<text x="267.20" y="259.30" font-size="13.2" fill="#fff" text-anchor="middle" font-weight="normal" transform="rotate(-90 267.20 259.30)">Ischemic Heart</text>
<text x="283.00" y="259.30" font-size="13.2" fill="#fff" text-anchor="middle" font-weight="normal" transform="rotate(-90 283.00 259.30)">Disease</text>
<rect x="93.2" y="188.6" width="140.6" height="141.6" fill="none" stroke="#5b6a94" stroke-width="1.1" stroke-dasharray="5.2 2.6"/>
<line x1="75.4" y1="255.5" x2="87.7" y2="255.5" stroke="#b5232b" stroke-width="2.2"/>
<polygon points="91.7,255.5 84.7,251.6 86.10000000000001,255.5 84.7,259.4" fill="#b5232b"/>
<line x1="238" y1="258" x2="249.7" y2="258" stroke="#b5232b" stroke-width="2.2"/>
<polygon points="253.7,258 246.7,254.1 248.1,258 246.7,261.9" fill="#b5232b"/>
<circle cx="118.1" cy="225.3" r="11.9" fill="#d9b55f" stroke="#1f1f1f" stroke-width="0.9"/>
<text x="118.10" y="228.00" font-size="7.5" fill="#fff" text-anchor="middle" font-weight="normal">7.6</text>
<text x="127.70" y="248.40" font-size="8.2" fill="#222" text-anchor="end" font-weight="normal">NOS3</text>
<line x1="133.2" y1="251.0" x2="133.2" y2="241.4" stroke="#b5232b" stroke-width="2.1"/>
<polygon points="133.2,236.6 129.7,243.20000000000002 136.7,243.20000000000002" fill="#b5232b"/>
<circle cx="162" cy="225.3" r="11.9" fill="#58a06d" stroke="#1f1f1f" stroke-width="0.9"/>
<text x="162.00" y="228.00" font-size="7.5" fill="#fff" text-anchor="middle" font-weight="normal">6.1</text>
<text x="175.30" y="248.40" font-size="8.2" fill="#222" text-anchor="end" font-weight="normal">TGFB1</text>
<line x1="179.5" y1="251.0" x2="179.5" y2="241.4" stroke="#b5232b" stroke-width="2.1"/>
<polygon points="179.5,236.6 176.0,243.20000000000002 183.0,243.20000000000002" fill="#b5232b"/>
<circle cx="207.2" cy="225.3" r="11.9" fill="#5f74a8" stroke="#1f1f1f" stroke-width="0.9"/>
<text x="207.20" y="228.00" font-size="7.5" fill="#fff" text-anchor="middle" font-weight="normal">4.4</text>
<text x="217.60" y="248.40" font-size="8.2" fill="#222" text-anchor="end" font-weight="normal">THY1</text>
<line x1="222.8" y1="251.0" x2="222.8" y2="241.4" stroke="#b5232b" stroke-width="2.1"/>
<polygon points="222.8,236.6 219.3,243.20000000000002 226.3,243.20000000000002" fill="#b5232b"/>
<circle cx="118.1" cy="277.6" r="11.9" fill="#a379b0" stroke="#1f1f1f" stroke-width="0.9"/>
<text x="118.10" y="280.30" font-size="7.5" fill="#fff" text-anchor="middle" font-weight="normal">7.5</text>
<text x="126.70" y="300.70" font-size="8.2" fill="#222" text-anchor="end" font-weight="normal">IDUA</text>
<line x1="132.3" y1="303.30000000000007" x2="132.3" y2="293.70000000000005" stroke="#b5232b" stroke-width="2.1"/>
<polygon points="132.3,288.90000000000003 128.8,295.50000000000006 135.8,295.50000000000006" fill="#b5232b"/>
<circle cx="162" cy="277.6" r="11.9" fill="#727272" stroke="#1f1f1f" stroke-width="0.9"/>
<text x="162.00" y="280.30" font-size="7.5" fill="#fff" text-anchor="middle" font-weight="normal">5.6</text>
<text x="173.30" y="300.70" font-size="8.2" fill="#222" text-anchor="end" font-weight="normal">KYNU</text>
<line x1="177.5" y1="303.30000000000007" x2="177.5" y2="293.70000000000005" stroke="#b5232b" stroke-width="2.1"/>
<polygon points="177.5,288.90000000000003 174.0,295.50000000000006 181.0,295.50000000000006" fill="#b5232b"/>
<circle cx="207.2" cy="278.3" r="11.9" fill="#a05f65" stroke="#1f1f1f" stroke-width="0.9"/>
<text x="207.20" y="281.00" font-size="7.5" fill="#fff" text-anchor="middle" font-weight="normal">4.8</text>
<text x="220.10" y="301.40" font-size="8.2" fill="#222" text-anchor="end" font-weight="normal">FGF21</text>
<line x1="224.3" y1="304.00000000000006" x2="224.3" y2="294.40000000000003" stroke="#b5232b" stroke-width="2.1"/>
<polygon points="224.3,289.6 220.8,296.20000000000005 227.8,296.20000000000005" fill="#b5232b"/>
<text x="167.90" y="347.30" font-size="9.5" fill="#111" text-anchor="middle" font-weight="bold">Proteome</text>
<text x="7.30" y="370.20" font-size="13" fill="#000" text-anchor="start" font-weight="bold">D</text>
<text x="44.40" y="369.70" font-size="7.36" fill="#000" text-anchor="start" font-weight="bold">Mediators Type</text>
<rect x="102.2" y="364.2" width="5.5" height="5.8" fill="#5b75a3"/>
<text x="110.40" y="369.80" font-size="7.45" fill="#000" text-anchor="start" font-weight="normal">PM2.5 Specific</text>
<rect x="165" y="364.2" width="5.5" height="5.8" fill="#8ea4c6"/>
<text x="172.80" y="369.80" font-size="7.45" fill="#000" text-anchor="start" font-weight="normal">PM10 Specific</text>
<rect x="223.6" y="364.2" width="5.5" height="5.8" fill="#dbb254"/>
<text x="232.90" y="369.80" font-size="7.45" fill="#000" text-anchor="start" font-weight="normal">NO2 Specific</text>
<rect x="279.3" y="364.2" width="5.5" height="5.8" fill="#e9d984"/>
<text x="288.70" y="369.80" font-size="7.45" fill="#000" text-anchor="start" font-weight="normal">NOx Specific</text>
<rect x="335.1" y="364.2" width="5.5" height="5.8" fill="#d4d4d6"/>
<text x="343.90" y="369.80" font-size="7.45" fill="#000" text-anchor="start" font-weight="normal">Shared</text>
<rect x="54.90" y="384.05" width="25.1" height="101.95" fill="#5b75a3"/>
<rect x="54.90" y="391.90" width="25.1" height="94.10" fill="#8ea4c6"/>
<rect x="54.90" y="404.44" width="25.1" height="81.56" fill="#dbb254"/>
<rect x="54.90" y="410.05" width="25.1" height="75.95" fill="#e9d984"/>
<rect x="54.90" y="412.39" width="25.1" height="73.61" fill="#d4d4d6"/>
<line x1="67.45" y1="491.2" x2="67.45" y2="494" stroke="#333" stroke-width="0.7"/>
<text x="71.45" y="499.60" font-size="9.3" fill="#4d4d4d" text-anchor="end" font-weight="normal" transform="rotate(-45 71.45 499.60)">Anemia</text>
<rect x="83.45" y="384.05" width="25.1" height="101.95" fill="#5b75a3"/>
<rect x="83.45" y="391.90" width="25.1" height="94.10" fill="#8ea4c6"/>
<rect x="83.45" y="415.86" width="25.1" height="70.14" fill="#dbb254"/>
<rect x="83.45" y="421.16" width="25.1" height="64.84" fill="#e9d984"/>
<rect x="83.45" y="423.81" width="25.1" height="62.19" fill="#d4d4d6"/>
<line x1="96.00" y1="491.2" x2="96.00" y2="494" stroke="#333" stroke-width="0.7"/>
<text x="100.00" y="499.60" font-size="9.3" fill="#4d4d4d" text-anchor="end" font-weight="normal" transform="rotate(-45 100.00 499.60)">Pneumonia</text>
<rect x="112.00" y="384.05" width="25.1" height="101.95" fill="#5b75a3"/>
<rect x="112.00" y="391.90" width="25.1" height="94.10" fill="#8ea4c6"/>
<rect x="112.00" y="424.63" width="25.1" height="61.37" fill="#dbb254"/>
<rect x="112.00" y="428.40" width="25.1" height="57.60" fill="#e9d984"/>
<rect x="112.00" y="431.35" width="25.1" height="54.65" fill="#d4d4d6"/>
<line x1="124.55" y1="491.2" x2="124.55" y2="494" stroke="#333" stroke-width="0.7"/>
<text x="128.55" y="499.60" font-size="9.3" fill="#4d4d4d" text-anchor="end" font-weight="normal" transform="rotate(-45 128.55 499.60)">T2D</text>
<rect x="140.55" y="384.05" width="25.1" height="101.95" fill="#5b75a3"/>
<rect x="140.55" y="389.05" width="25.1" height="96.95" fill="#8ea4c6"/>
<rect x="140.55" y="412.39" width="25.1" height="73.61" fill="#dbb254"/>
<rect x="140.55" y="413.82" width="25.1" height="72.18" fill="#e9d984"/>
<rect x="140.55" y="427.58" width="25.1" height="58.42" fill="#d4d4d6"/>
<line x1="153.10" y1="491.2" x2="153.10" y2="494" stroke="#333" stroke-width="0.7"/>
<text x="157.10" y="499.60" font-size="9.3" fill="#4d4d4d" text-anchor="end" font-weight="normal" transform="rotate(-45 157.10 499.60)">COPD</text>
<rect x="169.10" y="384.05" width="25.1" height="101.95" fill="#5b75a3"/>
<rect x="169.10" y="408.82" width="25.1" height="77.18" fill="#8ea4c6"/>
<rect x="169.10" y="419.12" width="25.1" height="66.88" fill="#dbb254"/>
<rect x="169.10" y="427.28" width="25.1" height="58.72" fill="#e9d984"/>
<rect x="169.10" y="432.78" width="25.1" height="53.22" fill="#d4d4d6"/>
<line x1="181.65" y1="491.2" x2="181.65" y2="494" stroke="#333" stroke-width="0.7"/>
<text x="185.65" y="499.60" font-size="9.3" fill="#4d4d4d" text-anchor="end" font-weight="normal" transform="rotate(-45 185.65 499.60)">PAD</text>
<rect x="197.65" y="384.05" width="25.1" height="101.95" fill="#5b75a3"/>
<rect x="197.65" y="387.52" width="25.1" height="98.48" fill="#8ea4c6"/>
<rect x="197.65" y="397.51" width="25.1" height="88.49" fill="#dbb254"/>
<rect x="197.65" y="398.63" width="25.1" height="87.37" fill="#e9d984"/>
<rect x="197.65" y="435.03" width="25.1" height="50.98" fill="#d4d4d6"/>
<line x1="210.20" y1="491.2" x2="210.20" y2="494" stroke="#333" stroke-width="0.7"/>
<text x="214.20" y="499.60" font-size="9.3" fill="#4d4d4d" text-anchor="end" font-weight="normal" transform="rotate(-45 214.20 499.60)">LE</text>
<rect x="226.20" y="384.05" width="25.1" height="101.95" fill="#5b75a3"/>
<rect x="226.20" y="412.60" width="25.1" height="73.40" fill="#8ea4c6"/>
<rect x="226.20" y="468.46" width="25.1" height="17.54" fill="#dbb254"/>
<rect x="226.20" y="471.93" width="25.1" height="14.07" fill="#d4d4d6"/>
<line x1="238.75" y1="491.2" x2="238.75" y2="494" stroke="#333" stroke-width="0.7"/>
<text x="242.75" y="499.60" font-size="9.3" fill="#4d4d4d" text-anchor="end" font-weight="normal" transform="rotate(-45 242.75 499.60)">CKD</text>
<rect x="254.75" y="384.05" width="25.1" height="101.95" fill="#5b75a3"/>
<rect x="254.75" y="464.08" width="25.1" height="21.92" fill="#dbb254"/>
<rect x="254.75" y="471.42" width="25.1" height="14.58" fill="#d4d4d6"/>
<line x1="267.30" y1="491.2" x2="267.30" y2="494" stroke="#333" stroke-width="0.7"/>
<text x="271.30" y="499.60" font-size="9.3" fill="#4d4d4d" text-anchor="end" font-weight="normal" transform="rotate(-45 271.30 499.60)">HeartFailure</text>
<rect x="283.30" y="384.05" width="25.1" height="101.95" fill="#5b75a3"/>
<rect x="283.30" y="450.01" width="25.1" height="35.99" fill="#dbb254"/>
<rect x="283.30" y="462.04" width="25.1" height="23.96" fill="#e9d984"/>
<rect x="283.30" y="479.88" width="25.1" height="6.12" fill="#d4d4d6"/>
<line x1="295.85" y1="491.2" x2="295.85" y2="494" stroke="#333" stroke-width="0.7"/>
<text x="299.85" y="499.60" font-size="9.3" fill="#4d4d4d" text-anchor="end" font-weight="normal" transform="rotate(-45 299.85 499.60)">RA</text>
<rect x="311.85" y="384.05" width="25.1" height="101.95" fill="#5b75a3"/>
<rect x="311.85" y="388.43" width="25.1" height="97.57" fill="#8ea4c6"/>
<rect x="311.85" y="396.90" width="25.1" height="89.10" fill="#e9d984"/>
<line x1="324.40" y1="491.2" x2="324.40" y2="494" stroke="#333" stroke-width="0.7"/>
<text x="328.40" y="499.60" font-size="9.3" fill="#4d4d4d" text-anchor="end" font-weight="normal" transform="rotate(-45 328.40 499.60)">NAFLD</text>
<rect x="340.40" y="384.05" width="25.1" height="101.95" fill="#5b75a3"/>
<line x1="352.95" y1="491.2" x2="352.95" y2="494" stroke="#333" stroke-width="0.7"/>
<text x="356.95" y="499.60" font-size="9.3" fill="#4d4d4d" text-anchor="end" font-weight="normal" transform="rotate(-45 356.95 499.60)">Arrhythmias</text>
<path d="M51.2 378.8 L51.2 491.3 L369.6 491.3" fill="none" stroke="#111" stroke-width="1.4"/>
<line x1="48.6" y1="486.00" x2="51.2" y2="486.00" stroke="#333" stroke-width="0.7"/>
<text x="47.60" y="489.30" font-size="9.4" fill="#4d4d4d" text-anchor="end" font-weight="normal">0.00</text>
<line x1="48.6" y1="460.51" x2="51.2" y2="460.51" stroke="#333" stroke-width="0.7"/>
<text x="47.60" y="463.81" font-size="9.4" fill="#4d4d4d" text-anchor="end" font-weight="normal">0.25</text>
<line x1="48.6" y1="435.02" x2="51.2" y2="435.02" stroke="#333" stroke-width="0.7"/>
<text x="47.60" y="438.32" font-size="9.4" fill="#4d4d4d" text-anchor="end" font-weight="normal">0.50</text>
<line x1="48.6" y1="409.54" x2="51.2" y2="409.54" stroke="#333" stroke-width="0.7"/>
<text x="47.60" y="412.84" font-size="9.4" fill="#4d4d4d" text-anchor="end" font-weight="normal">0.75</text>
<line x1="48.6" y1="384.05" x2="51.2" y2="384.05" stroke="#333" stroke-width="0.7"/>
<text x="47.60" y="387.35" font-size="9.4" fill="#4d4d4d" text-anchor="end" font-weight="normal">1.00</text>
<text x="7.30" y="553.20" font-size="13" fill="#000" text-anchor="start" font-weight="bold">E</text>
<text x="57.00" y="556.90" font-size="7.6" fill="#111" text-anchor="start" font-weight="normal">Global Mediated Proportion</text>
<defs><linearGradient id="gr"><stop offset="0" stop-color="#fbecec"/><stop offset="0.263" stop-color="#d9989e"/><stop offset="0.555" stop-color="#bf6f79"/><stop offset="0.842" stop-color="#9e4553"/><stop offset="1" stop-color="#7e2032"/></linearGradient><linearGradient id="gp"><stop offset="0" stop-color="#f6f1f7"/><stop offset="0.19" stop-color="#cfc0d8"/><stop offset="0.51" stop-color="#9275a8"/><stop offset="1" stop-color="#8c6ea4"/></linearGradient></defs>
<rect x="158.3" y="545.8" width="41.8" height="8.2" fill="url(#gr)"/>
<line x1="158.4" y1="545.8" x2="158.4" y2="547.4" stroke="#fff" stroke-width="0.5"/><line x1="158.4" y1="552.4" x2="158.4" y2="554" stroke="#fff" stroke-width="0.5"/>
<text x="158.40" y="562.30" font-size="7.4" fill="#222" text-anchor="middle" font-weight="normal">0</text>
<line x1="169.5" y1="545.8" x2="169.5" y2="547.4" stroke="#fff" stroke-width="0.5"/><line x1="169.5" y1="552.4" x2="169.5" y2="554" stroke="#fff" stroke-width="0.5"/>
<text x="169.50" y="562.30" font-size="7.4" fill="#222" text-anchor="middle" font-weight="normal">20</text>
<line x1="181.4" y1="545.8" x2="181.4" y2="547.4" stroke="#fff" stroke-width="0.5"/><line x1="181.4" y1="552.4" x2="181.4" y2="554" stroke="#fff" stroke-width="0.5"/>
<text x="181.40" y="562.30" font-size="7.4" fill="#222" text-anchor="middle" font-weight="normal">40</text>
<line x1="193.4" y1="545.8" x2="193.4" y2="547.4" stroke="#fff" stroke-width="0.5"/><line x1="193.4" y1="552.4" x2="193.4" y2="554" stroke="#fff" stroke-width="0.5"/>
<text x="193.40" y="562.30" font-size="7.4" fill="#222" text-anchor="middle" font-weight="normal">60</text>
<text x="214.80" y="555.70" font-size="7.6" fill="#111" text-anchor="start" font-weight="normal">Mediator Count</text>
<circle cx="279.9" cy="552.5" r="6.9" fill="#fff" stroke="#1c1c1c" stroke-width="1"/>
<text x="291.60" y="555.20" font-size="7.6" fill="#111" text-anchor="start" font-weight="normal">25</text>
<circle cx="315.5" cy="552.5" r="9.9" fill="#fff" stroke="#1c1c1c" stroke-width="1"/>
<text x="330.10" y="555.20" font-size="7.6" fill="#111" text-anchor="start" font-weight="normal">50</text>
<circle cx="355.5" cy="552.5" r="11.6" fill="#fff" stroke="#1c1c1c" stroke-width="1"/>
<text x="373.00" y="555.20" font-size="7.6" fill="#111" text-anchor="start" font-weight="normal">75</text>
<g stroke="#dedede" stroke-width="0.9" stroke-dasharray="4 3.5">
<line x1="69.2" y1="573.5" x2="69.2" y2="697"/>
<line x1="96.9" y1="573.5" x2="96.9" y2="697"/>
<line x1="124.7" y1="573.5" x2="124.7" y2="697"/>
<line x1="152.1" y1="573.5" x2="152.1" y2="697"/>
<line x1="179.6" y1="573.5" x2="179.6" y2="697"/>
<line x1="206.9" y1="573.5" x2="206.9" y2="697"/>
<line x1="234.4" y1="573.5" x2="234.4" y2="697"/>
<line x1="262.1" y1="573.5" x2="262.1" y2="697"/>
<line x1="289.6" y1="573.5" x2="289.6" y2="697"/>
<line x1="317" y1="573.5" x2="317" y2="697"/>
<line x1="344.5" y1="573.5" x2="344.5" y2="697"/>
<line x1="372.2" y1="573.5" x2="372.2" y2="697"/>
<line x1="54" y1="587" x2="388" y2="587"/>
<line x1="54" y1="611.2" x2="388" y2="611.2"/>
<line x1="54" y1="635.4" x2="388" y2="635.4"/>
<line x1="54" y1="659.7" x2="388" y2="659.7"/>
<line x1="54" y1="683.9" x2="388" y2="683.9"/>
</g>
<circle cx="69.2" cy="587" r="8.95" fill="#e6bfc0" stroke="#1c1c1c" stroke-width="0.9"/>
<circle cx="96.9" cy="587" r="10.45" fill="#e8c3c4" stroke="#1c1c1c" stroke-width="0.9"/>
<circle cx="124.7" cy="587" r="3.15" fill="#efd0d0" stroke="#1c1c1c" stroke-width="0.9"/>
<circle cx="152.1" cy="587" r="5.15" fill="#dda5a8" stroke="#1c1c1c" stroke-width="0.9"/>
<circle cx="179.6" cy="587" r="1.45" fill="#d89a9e" stroke="#1c1c1c" stroke-width="0.9"/>
<circle cx="206.9" cy="587" r="10.15" fill="#dfaaad" stroke="#1c1c1c" stroke-width="0.9"/>
<circle cx="234.4" cy="587" r="9.25" fill="#c57f85" stroke="#1c1c1c" stroke-width="0.9"/>
<circle cx="262.1" cy="587" r="3.45" fill="#e9c4c5" stroke="#1c1c1c" stroke-width="0.9"/>
<circle cx="317" cy="587" r="9.85" fill="#efd3d3" stroke="#1c1c1c" stroke-width="0.9"/>
<circle cx="344.5" cy="587" r="8.95" fill="#dcaaad" stroke="#1c1c1c" stroke-width="0.9"/>
<circle cx="372.2" cy="587" r="11.05" fill="#e6bfc1" stroke="#1c1c1c" stroke-width="0.9"/>
<circle cx="69.2" cy="611.2" r="9.85" fill="#cf8f94" stroke="#1c1c1c" stroke-width="0.9"/>
<circle cx="96.9" cy="611.2" r="10.45" fill="#d49da1" stroke="#1c1c1c" stroke-width="0.9"/>
<circle cx="124.7" cy="611.2" r="7.85" fill="#8f2a35" stroke="#1c1c1c" stroke-width="0.9"/>
<circle cx="179.6" cy="611.2" r="2.55" fill="#b86068" stroke="#1c1c1c" stroke-width="0.9"/>
<circle cx="206.9" cy="611.2" r="11.95" fill="#c88086" stroke="#1c1c1c" stroke-width="0.9"/>
<circle cx="234.4" cy="611.2" r="11.05" fill="#b55c66" stroke="#1c1c1c" stroke-width="0.9"/>
<circle cx="317" cy="611.2" r="8.95" fill="#e0b0b2" stroke="#1c1c1c" stroke-width="0.9"/>
<circle cx="344.5" cy="611.2" r="1.45" fill="#c98489" stroke="#1c1c1c" stroke-width="0.9"/>
<circle cx="372.2" cy="611.2" r="10.75" fill="#dba2a6" stroke="#1c1c1c" stroke-width="0.9"/>
<circle cx="69.2" cy="635.4" r="8.45" fill="#e2b3b5" stroke="#1c1c1c" stroke-width="0.9"/>
<circle cx="96.9" cy="635.4" r="10.15" fill="#d9a2a6" stroke="#1c1c1c" stroke-width="0.9"/>
<circle cx="124.7" cy="635.4" r="2.55" fill="#c98087" stroke="#1c1c1c" stroke-width="0.9"/>
<circle cx="152.1" cy="635.4" r="2.55" fill="#d4959a" stroke="#1c1c1c" stroke-width="0.9"/>
<circle cx="206.9" cy="635.4" r="9.25" fill="#c4777e" stroke="#1c1c1c" stroke-width="0.9"/>
<circle cx="234.4" cy="635.4" r="3.75" fill="#a23843" stroke="#1c1c1c" stroke-width="0.9"/>
<circle cx="317" cy="635.4" r="6.35" fill="#d9a0a4" stroke="#1c1c1c" stroke-width="0.9"/>
<circle cx="344.5" cy="635.4" r="4.65" fill="#c57c83" stroke="#1c1c1c" stroke-width="0.9"/>
<circle cx="372.2" cy="635.4" r="11.05" fill="#e4b9bb" stroke="#1c1c1c" stroke-width="0.9"/>
<circle cx="69.2" cy="659.7" r="9.85" fill="#e6bfc0" stroke="#1c1c1c" stroke-width="0.9"/>
<circle cx="96.9" cy="659.7" r="10.15" fill="#e8c3c5" stroke="#1c1c1c" stroke-width="0.9"/>
<circle cx="124.7" cy="659.7" r="8.95" fill="#d9a0a4" stroke="#1c1c1c" stroke-width="0.9"/>
<circle cx="152.1" cy="659.7" r="3.15" fill="#cd8a90" stroke="#1c1c1c" stroke-width="0.9"/>
<circle cx="179.6" cy="659.7" r="6.05" fill="#d9a0a4" stroke="#1c1c1c" stroke-width="0.9"/>
<circle cx="206.9" cy="659.7" r="10.15" fill="#e4b9bb" stroke="#1c1c1c" stroke-width="0.9"/>
<circle cx="317" cy="659.7" r="9.55" fill="#f0d7d7" stroke="#1c1c1c" stroke-width="0.9"/>
<circle cx="372.2" cy="659.7" r="11.05" fill="#e9c6c7" stroke="#1c1c1c" stroke-width="0.9"/>
<circle cx="69.2" cy="683.9" r="4.35" fill="#ecc9ca" stroke="#1c1c1c" stroke-width="0.9"/>
<circle cx="96.9" cy="683.9" r="7.55" fill="#d9a0a4" stroke="#1c1c1c" stroke-width="0.9"/>
<circle cx="124.7" cy="683.9" r="5.75" fill="#ebc8c9" stroke="#1c1c1c" stroke-width="0.9"/>
<circle cx="152.1" cy="683.9" r="5.45" fill="#dfaaad" stroke="#1c1c1c" stroke-width="0.9"/>
<circle cx="179.6" cy="683.9" r="4.95" fill="#e4b6b8" stroke="#1c1c1c" stroke-width="0.9"/>
<circle cx="206.9" cy="683.9" r="4.65" fill="#e6bcbd" stroke="#1c1c1c" stroke-width="0.9"/>
<circle cx="234.4" cy="683.9" r="8.95" fill="#d0929a" stroke="#1c1c1c" stroke-width="0.9"/>
<circle cx="262.1" cy="683.9" r="5.45" fill="#e6bcbd" stroke="#1c1c1c" stroke-width="0.9"/>
<circle cx="289.6" cy="683.9" r="3.45" fill="#cf8c92" stroke="#1c1c1c" stroke-width="0.9"/>
<circle cx="317" cy="683.9" r="5.15" fill="#f0d7d7" stroke="#1c1c1c" stroke-width="0.9"/>
<circle cx="344.5" cy="683.9" r="7.25" fill="#d49499" stroke="#1c1c1c" stroke-width="0.9"/>
<circle cx="372.2" cy="683.9" r="5.45" fill="#ebc8c9" stroke="#1c1c1c" stroke-width="0.9"/>
<rect x="53.5" y="573.1" width="335" height="124.4" fill="none" stroke="#111" stroke-width="1.3"/>
<line x1="51" y1="587" x2="53.5" y2="587" stroke="#333" stroke-width="0.7"/>
<text x="50.60" y="590.30" font-size="9.4" fill="#4d4d4d" text-anchor="end" font-weight="normal">PM2.5</text>
<line x1="51" y1="611.2" x2="53.5" y2="611.2" stroke="#333" stroke-width="0.7"/>
<text x="50.60" y="614.50" font-size="9.4" fill="#4d4d4d" text-anchor="end" font-weight="normal">PM10</text>
<line x1="51" y1="635.4" x2="53.5" y2="635.4" stroke="#333" stroke-width="0.7"/>
<text x="50.60" y="638.70" font-size="9.4" fill="#4d4d4d" text-anchor="end" font-weight="normal">NOx</text>
<line x1="51" y1="659.7" x2="53.5" y2="659.7" stroke="#333" stroke-width="0.7"/>
<text x="50.60" y="663.00" font-size="9.4" fill="#4d4d4d" text-anchor="end" font-weight="normal">NO2</text>
<line x1="51" y1="683.9" x2="53.5" y2="683.9" stroke="#333" stroke-width="0.7"/>
<text x="50.60" y="687.20" font-size="9.4" fill="#4d4d4d" text-anchor="end" font-weight="normal">AP index</text>
<line x1="69.2" y1="697.6" x2="69.2" y2="700.4" stroke="#333" stroke-width="0.7"/>
<text x="73.50" y="705.60" font-size="9.2" fill="#4d4d4d" text-anchor="end" font-weight="normal" transform="rotate(-45 73.50 705.60)">COPD</text>
<line x1="96.9" y1="697.6" x2="96.9" y2="700.4" stroke="#333" stroke-width="0.7"/>
<text x="101.20" y="705.60" font-size="9.2" fill="#4d4d4d" text-anchor="end" font-weight="normal" transform="rotate(-45 101.20 705.60)">Pneumonia</text>
<line x1="124.7" y1="697.6" x2="124.7" y2="700.4" stroke="#333" stroke-width="0.7"/>
<text x="129.00" y="705.60" font-size="9.2" fill="#4d4d4d" text-anchor="end" font-weight="normal" transform="rotate(-45 129.00 705.60)">LE</text>
<line x1="152.1" y1="697.6" x2="152.1" y2="700.4" stroke="#333" stroke-width="0.7"/>
<text x="156.40" y="705.60" font-size="9.2" fill="#4d4d4d" text-anchor="end" font-weight="normal" transform="rotate(-45 156.40 705.60)">RA</text>
<line x1="179.6" y1="697.6" x2="179.6" y2="700.4" stroke="#333" stroke-width="0.7"/>
<text x="183.90" y="705.60" font-size="9.2" fill="#4d4d4d" text-anchor="end" font-weight="normal" transform="rotate(-45 183.90 705.60)">NAFLD</text>
<line x1="206.9" y1="697.6" x2="206.9" y2="700.4" stroke="#333" stroke-width="0.7"/>
<text x="211.20" y="705.60" font-size="9.2" fill="#4d4d4d" text-anchor="end" font-weight="normal" transform="rotate(-45 211.20 705.60)">T2D</text>
<line x1="234.4" y1="697.6" x2="234.4" y2="700.4" stroke="#333" stroke-width="0.7"/>
<text x="238.70" y="705.60" font-size="9.2" fill="#4d4d4d" text-anchor="end" font-weight="normal" transform="rotate(-45 238.70 705.60)">CKD</text>
<line x1="262.1" y1="697.6" x2="262.1" y2="700.4" stroke="#333" stroke-width="0.7"/>
<text x="266.40" y="705.60" font-size="9.2" fill="#4d4d4d" text-anchor="end" font-weight="normal" transform="rotate(-45 266.40 705.60)">Arrhythmias</text>
<line x1="289.6" y1="697.6" x2="289.6" y2="700.4" stroke="#333" stroke-width="0.7"/>
<text x="293.90" y="705.60" font-size="9.2" fill="#4d4d4d" text-anchor="end" font-weight="normal" transform="rotate(-45 293.90 705.60)">IHD</text>
<line x1="317" y1="697.6" x2="317" y2="700.4" stroke="#333" stroke-width="0.7"/>
<text x="321.30" y="705.60" font-size="9.2" fill="#4d4d4d" text-anchor="end" font-weight="normal" transform="rotate(-45 321.30 705.60)">PAD</text>
<line x1="344.5" y1="697.6" x2="344.5" y2="700.4" stroke="#333" stroke-width="0.7"/>
<text x="348.80" y="705.60" font-size="9.2" fill="#4d4d4d" text-anchor="end" font-weight="normal" transform="rotate(-45 348.80 705.60)">Heart Failure</text>
<line x1="372.2" y1="697.6" x2="372.2" y2="700.4" stroke="#333" stroke-width="0.7"/>
<text x="376.50" y="705.60" font-size="9.2" fill="#4d4d4d" text-anchor="end" font-weight="normal" transform="rotate(-45 376.50 705.60)">Anemia</text>
<text x="10.40" y="635.70" font-size="9" fill="#111" text-anchor="middle" font-weight="bold" transform="rotate(-90 10.40 635.70)">Exposure</text>
<text x="220.60" y="752.40" font-size="9.1" fill="#111" text-anchor="middle" font-weight="bold">Disease</text>
<text x="401.00" y="374.90" font-size="13" fill="#000" text-anchor="start" font-weight="bold">F</text>
<rect x="413.4" y="373.4" width="6.5" height="90.60000000000002" fill="#8f6cb4"/>
<rect x="413.4" y="464" width="6.5" height="69.5" fill="#5b75a3"/>
<rect x="413.4" y="533.5" width="6.5" height="112.39999999999998" fill="#5f9e78"/>
<rect x="413.4" y="645.9" width="6.5" height="27.0" fill="#b85c66"/>
<rect x="423.85" y="374.85" width="22.95" height="22.28" fill="#a893b8"/>
<rect x="447.30" y="374.85" width="22.95" height="22.28" fill="#e4dde6"/>
<rect x="423.85" y="397.63" width="22.95" height="22.28" fill="#ae9abd"/>
<rect x="423.85" y="420.41" width="22.95" height="22.28" fill="#b09cbe"/>
<rect x="470.75" y="420.41" width="22.95" height="22.28" fill="#d5c8da"/>
<rect x="494.20" y="420.41" width="22.95" height="22.28" fill="#e2d9e6"/>
<rect x="423.85" y="443.19" width="22.95" height="22.28" fill="#b9a7c5"/>
<rect x="423.85" y="465.97" width="22.95" height="22.28" fill="#bca9c8"/>
<rect x="447.30" y="465.97" width="22.95" height="22.28" fill="#e6dfe9"/>
<rect x="470.75" y="465.97" width="22.95" height="22.28" fill="#cfc0d6"/>
<rect x="423.85" y="488.75" width="22.95" height="22.28" fill="#ddd2e2"/>
<rect x="447.30" y="488.75" width="22.95" height="22.28" fill="#8e6fa6"/>
<rect x="470.75" y="488.75" width="22.95" height="22.28" fill="#c9b9d2"/>
<rect x="494.20" y="488.75" width="22.95" height="22.28" fill="#e9e2ec"/>
<rect x="447.30" y="511.53" width="22.95" height="22.28" fill="#a993bb"/>
<rect x="423.85" y="534.31" width="22.95" height="22.28" fill="#e8e1ea"/>
<rect x="470.75" y="534.31" width="22.95" height="22.28" fill="#8f70a6"/>
<rect x="470.75" y="557.09" width="22.95" height="22.28" fill="#8f70a6"/>
<rect x="470.75" y="579.87" width="22.95" height="22.28" fill="#8f70a6"/>
<rect x="470.75" y="602.65" width="22.95" height="22.28" fill="#8f70a6"/>
<rect x="470.75" y="625.43" width="22.95" height="22.28" fill="#9273a8"/>
<rect x="494.20" y="648.21" width="22.95" height="22.28" fill="#b9a5c6"/>
<rect x="421.3" y="373.1" width="97.9" height="299.8" fill="none" stroke="#333" stroke-width="0.9"/>
<line x1="519.2" y1="385.99" x2="521" y2="385.99" stroke="#333" stroke-width="0.7"/>
<text x="521.80" y="389.09" font-size="8.72" fill="#4d4d4d" text-anchor="start" font-weight="normal">protein maturation</text>
<line x1="519.2" y1="408.77" x2="521" y2="408.77" stroke="#333" stroke-width="0.7"/>
<text x="521.80" y="411.87" font-size="8.72" fill="#4d4d4d" text-anchor="start" font-weight="normal">regulation of protein phosphorylation</text>
<line x1="519.2" y1="431.55" x2="521" y2="431.55" stroke="#333" stroke-width="0.7"/>
<text x="521.80" y="434.65" font-size="8.72" fill="#4d4d4d" text-anchor="start" font-weight="normal">regulation of synapse structure or activity</text>
<line x1="519.2" y1="454.33" x2="521" y2="454.33" stroke="#333" stroke-width="0.7"/>
<text x="521.80" y="457.43" font-size="8.72" fill="#4d4d4d" text-anchor="start" font-weight="normal">regulation of hydrolase activity</text>
<line x1="519.2" y1="477.11" x2="521" y2="477.11" stroke="#333" stroke-width="0.7"/>
<text x="521.80" y="480.21" font-size="8.72" fill="#4d4d4d" text-anchor="start" font-weight="normal">positive regulation of MAPK cascade</text>
<line x1="519.2" y1="499.89" x2="521" y2="499.89" stroke="#333" stroke-width="0.7"/>
<text x="521.80" y="502.99" font-size="8.72" fill="#4d4d4d" text-anchor="start" font-weight="normal">positive regulation of cell adhesion</text>
<line x1="519.2" y1="522.67" x2="521" y2="522.67" stroke="#333" stroke-width="0.7"/>
<text x="521.80" y="525.77" font-size="8.72" fill="#4d4d4d" text-anchor="start" font-weight="normal">innate immune response</text>
<line x1="519.2" y1="545.45" x2="521" y2="545.45" stroke="#333" stroke-width="0.7"/>
<text x="521.80" y="548.55" font-size="8.72" fill="#4d4d4d" text-anchor="start" font-weight="normal">monosaccharide metabolic process</text>
<line x1="519.2" y1="568.23" x2="521" y2="568.23" stroke="#333" stroke-width="0.7"/>
<text x="521.80" y="571.33" font-size="8.72" fill="#4d4d4d" text-anchor="start" font-weight="normal">carbohydrate metabolic process</text>
<line x1="519.2" y1="591.01" x2="521" y2="591.01" stroke="#333" stroke-width="0.7"/>
<text x="521.80" y="594.11" font-size="8.72" fill="#4d4d4d" text-anchor="start" font-weight="normal">chemotaxis</text>
<line x1="519.2" y1="613.79" x2="521" y2="613.79" stroke="#333" stroke-width="0.7"/>
<text x="521.80" y="616.89" font-size="8.72" fill="#4d4d4d" text-anchor="start" font-weight="normal">cellular response to growth factor stimulus</text>
<line x1="519.2" y1="636.57" x2="521" y2="636.57" stroke="#333" stroke-width="0.7"/>
<text x="521.80" y="639.67" font-size="8.72" fill="#4d4d4d" text-anchor="start" font-weight="normal">renal system vasculature development</text>
<line x1="519.2" y1="659.35" x2="521" y2="659.35" stroke="#333" stroke-width="0.7"/>
<text x="521.80" y="662.45" font-size="8.72" fill="#4d4d4d" text-anchor="start" font-weight="normal">cell population proliferation</text>
<line x1="435.33" y1="672.9" x2="435.33" y2="675.6" stroke="#333" stroke-width="0.7"/>
<text x="439.33" y="680.00" font-size="8.6" fill="#4d4d4d" text-anchor="end" font-weight="normal" transform="rotate(-45 439.33 680.00)">Cardio</text>
<line x1="458.78" y1="672.9" x2="458.78" y2="675.6" stroke="#333" stroke-width="0.7"/>
<text x="462.78" y="680.00" font-size="8.6" fill="#4d4d4d" text-anchor="end" font-weight="normal" transform="rotate(-45 462.78 680.00)">Immune</text>
<line x1="482.23" y1="672.9" x2="482.23" y2="675.6" stroke="#333" stroke-width="0.7"/>
<text x="486.23" y="680.00" font-size="8.6" fill="#4d4d4d" text-anchor="end" font-weight="normal" transform="rotate(-45 486.23 680.00)">Metabolic</text>
<line x1="505.68" y1="672.9" x2="505.68" y2="675.6" stroke="#333" stroke-width="0.7"/>
<text x="509.68" y="680.00" font-size="8.6" fill="#4d4d4d" text-anchor="end" font-weight="normal" transform="rotate(-45 509.68 680.00)">Lung</text>
<text x="410.40" y="729.80" font-size="7.95" fill="#111" text-anchor="start" font-weight="normal">−log10(P.Value)</text>
<rect x="469.9" y="715.8" width="61.1" height="12" fill="url(#gp)"/>
<line x1="481.6" y1="715.8" x2="481.6" y2="718.2" stroke="#fff" stroke-width="0.5"/><line x1="481.6" y1="725.4" x2="481.6" y2="727.8" stroke="#fff" stroke-width="0.5"/>
<text x="481.60" y="735.80" font-size="7.9" fill="#222" text-anchor="middle" font-weight="normal">2.0</text>
<line x1="501.1" y1="715.8" x2="501.1" y2="718.2" stroke="#fff" stroke-width="0.5"/><line x1="501.1" y1="725.4" x2="501.1" y2="727.8" stroke="#fff" stroke-width="0.5"/>
<text x="501.10" y="735.80" font-size="7.9" fill="#222" text-anchor="middle" font-weight="normal">5.0</text>
<line x1="517.2" y1="715.8" x2="517.2" y2="718.2" stroke="#fff" stroke-width="0.5"/><line x1="517.2" y1="725.4" x2="517.2" y2="727.8" stroke="#fff" stroke-width="0.5"/>
<text x="517.20" y="735.80" font-size="7.9" fill="#222" text-anchor="middle" font-weight="normal">7.5</text>
<text x="6.70" y="756.80" font-size="13" fill="#000" text-anchor="start" font-weight="bold">G</text>
<rect x="23.25" y="766.87" width="9.15" height="149.83" fill="#ad5c67"/>
<rect x="23.25" y="806.73" width="9.15" height="109.97" fill="#6b87af"/>
<rect x="23.25" y="821.08" width="9.15" height="95.62" fill="#629c77"/>
<rect x="23.25" y="856.86" width="9.15" height="59.84" fill="#c5b4cc"/>
<rect x="23.25" y="887.33" width="9.15" height="29.37" fill="#a893b6"/>
<rect x="23.25" y="903.80" width="9.15" height="12.90" fill="#8f74a3"/>
<line x1="27.82" y1="924" x2="27.82" y2="926.3" stroke="#333" stroke-width="0.6"/>
<text x="30.43" y="930.00" font-size="6.6" fill="#4d4d4d" text-anchor="end" font-weight="normal" transform="rotate(-45 30.43 930.00)">NUCB2</text>
<rect x="33.39" y="768.29" width="9.15" height="148.41" fill="#ad5c67"/>
<rect x="33.39" y="813.46" width="9.15" height="103.24" fill="#6b87af"/>
<rect x="33.39" y="832.95" width="9.15" height="83.75" fill="#5a75a0"/>
<rect x="33.39" y="852.79" width="9.15" height="63.91" fill="#629c77"/>
<rect x="33.39" y="883.43" width="9.15" height="33.27" fill="#a893b6"/>
<rect x="33.39" y="900.97" width="9.15" height="15.73" fill="#8f74a3"/>
<line x1="37.97" y1="924" x2="37.97" y2="926.3" stroke="#333" stroke-width="0.6"/>
<text x="40.57" y="930.00" font-size="6.6" fill="#4d4d4d" text-anchor="end" font-weight="normal" transform="rotate(-45 40.57 930.00)">DPY30</text>
<rect x="43.53" y="783.34" width="9.15" height="133.36" fill="#b66f77"/>
<rect x="43.53" y="807.44" width="9.15" height="109.26" fill="#629c77"/>
<rect x="43.53" y="834.01" width="9.15" height="82.69" fill="#a893b6"/>
<rect x="43.53" y="866.60" width="9.15" height="50.10" fill="#9c84ab"/>
<rect x="43.53" y="899.91" width="9.15" height="16.79" fill="#8f74a3"/>
<line x1="48.11" y1="924" x2="48.11" y2="926.3" stroke="#333" stroke-width="0.6"/>
<text x="50.71" y="930.00" font-size="6.6" fill="#4d4d4d" text-anchor="end" font-weight="normal" transform="rotate(-45 50.71 930.00)">MMP12</text>
<rect x="53.67" y="787.42" width="9.15" height="129.28" fill="#b66f77"/>
<rect x="53.67" y="807.61" width="9.15" height="109.09" fill="#6b87af"/>
<rect x="53.67" y="821.78" width="9.15" height="94.92" fill="#5a75a0"/>
<rect x="53.67" y="835.96" width="9.15" height="80.74" fill="#629c77"/>
<rect x="53.67" y="852.79" width="9.15" height="63.91" fill="#c5b4cc"/>
<rect x="53.67" y="874.93" width="9.15" height="41.77" fill="#a893b6"/>
<rect x="53.67" y="892.64" width="9.15" height="24.06" fill="#9c84ab"/>
<line x1="58.25" y1="924" x2="58.25" y2="926.3" stroke="#333" stroke-width="0.6"/>
<text x="60.85" y="930.00" font-size="6.6" fill="#4d4d4d" text-anchor="end" font-weight="normal" transform="rotate(-45 60.85 930.00)">MZB1</text>
<rect x="63.81" y="797.52" width="9.15" height="119.18" fill="#6b87af"/>
<rect x="63.81" y="824.44" width="9.15" height="92.26" fill="#629c77"/>
<rect x="63.81" y="857.39" width="9.15" height="59.31" fill="#c5b4cc"/>
<rect x="63.81" y="881.13" width="9.15" height="35.57" fill="#a893b6"/>
<rect x="63.81" y="902.74" width="9.15" height="13.96" fill="#8f74a3"/>
<line x1="68.39" y1="924" x2="68.39" y2="926.3" stroke="#333" stroke-width="0.6"/>
<text x="70.98" y="930.00" font-size="6.6" fill="#4d4d4d" text-anchor="end" font-weight="normal" transform="rotate(-45 70.98 930.00)">FOLR2</text>
<rect x="73.95" y="797.52" width="9.15" height="119.18" fill="#b66f77"/>
<rect x="73.95" y="816.65" width="9.15" height="100.05" fill="#ad5c67"/>
<rect x="73.95" y="857.75" width="9.15" height="58.95" fill="#629c77"/>
<rect x="73.95" y="883.26" width="9.15" height="33.44" fill="#a893b6"/>
<rect x="73.95" y="901.68" width="9.15" height="15.02" fill="#8f74a3"/>
<line x1="78.53" y1="924" x2="78.53" y2="926.3" stroke="#333" stroke-width="0.6"/>
<text x="81.12" y="930.00" font-size="6.6" fill="#4d4d4d" text-anchor="end" font-weight="normal" transform="rotate(-45 81.12 930.00)">TGFA</text>
<rect x="84.09" y="800.70" width="9.15" height="116.00" fill="#b66f77"/>
<rect x="84.09" y="817.71" width="9.15" height="98.99" fill="#6b87af"/>
<rect x="84.09" y="834.01" width="9.15" height="82.69" fill="#5a75a0"/>
<rect x="84.09" y="855.97" width="9.15" height="60.73" fill="#629c77"/>
<rect x="84.09" y="871.92" width="9.15" height="44.78" fill="#a893b6"/>
<rect x="84.09" y="891.76" width="9.15" height="24.94" fill="#9c84ab"/>
<line x1="88.67" y1="924" x2="88.67" y2="926.3" stroke="#333" stroke-width="0.6"/>
<text x="91.27" y="930.00" font-size="6.6" fill="#4d4d4d" text-anchor="end" font-weight="normal" transform="rotate(-45 91.27 930.00)">CCL7</text>
<rect x="94.23" y="807.08" width="9.15" height="109.62" fill="#5a75a0"/>
<rect x="94.23" y="831.88" width="9.15" height="84.82" fill="#80b093"/>
<rect x="94.23" y="859.87" width="9.15" height="56.83" fill="#72a786"/>
<rect x="94.23" y="877.76" width="9.15" height="38.94" fill="#629c77"/>
<rect x="94.23" y="900.97" width="9.15" height="15.73" fill="#8f74a3"/>
<line x1="98.81" y1="924" x2="98.81" y2="926.3" stroke="#333" stroke-width="0.6"/>
<text x="101.41" y="930.00" font-size="6.6" fill="#4d4d4d" text-anchor="end" font-weight="normal" transform="rotate(-45 101.41 930.00)">GFER</text>
<rect x="104.37" y="810.80" width="9.15" height="105.90" fill="#629c77"/>
<rect x="104.37" y="838.26" width="9.15" height="78.44" fill="#c5b4cc"/>
<rect x="104.37" y="868.91" width="9.15" height="47.79" fill="#a893b6"/>
<rect x="104.37" y="889.63" width="9.15" height="27.07" fill="#9c84ab"/>
<line x1="108.95" y1="924" x2="108.95" y2="926.3" stroke="#333" stroke-width="0.6"/>
<text x="111.55" y="930.00" font-size="6.6" fill="#4d4d4d" text-anchor="end" font-weight="normal" transform="rotate(-45 111.55 930.00)">EDA2R</text>
<rect x="114.51" y="816.80" width="9.15" height="99.90" fill="#ad5c67"/>
<rect x="114.51" y="851.84" width="9.15" height="64.86" fill="#72a786"/>
<rect x="114.51" y="866.56" width="9.15" height="50.14" fill="#629c77"/>
<rect x="114.51" y="898.09" width="9.15" height="18.61" fill="#a893b6"/>
<line x1="119.09" y1="924" x2="119.09" y2="926.3" stroke="#333" stroke-width="0.6"/>
<text x="121.69" y="930.00" font-size="6.6" fill="#4d4d4d" text-anchor="end" font-weight="normal" transform="rotate(-45 121.69 930.00)">CCL15</text>
<rect x="124.65" y="817.68" width="9.15" height="99.02" fill="#6b87af"/>
<rect x="124.65" y="833.27" width="9.15" height="83.43" fill="#629c77"/>
<rect x="124.65" y="857.97" width="9.15" height="58.73" fill="#a893b6"/>
<rect x="124.65" y="874.97" width="9.15" height="41.73" fill="#9c84ab"/>
<rect x="124.65" y="903.88" width="9.15" height="12.82" fill="#8f74a3"/>
<line x1="129.22" y1="924" x2="129.22" y2="926.3" stroke="#333" stroke-width="0.6"/>
<text x="131.82" y="930.00" font-size="6.6" fill="#4d4d4d" text-anchor="end" font-weight="normal" transform="rotate(-45 131.82 930.00)">TNFRSF13B</text>
<rect x="134.79" y="825.91" width="9.15" height="90.79" fill="#ad5c67"/>
<rect x="134.79" y="849.57" width="9.15" height="67.13" fill="#72a786"/>
<rect x="134.79" y="863.76" width="9.15" height="52.94" fill="#629c77"/>
<rect x="134.79" y="881.63" width="9.15" height="35.07" fill="#c5b4cc"/>
<rect x="134.79" y="896.34" width="9.15" height="20.36" fill="#9c84ab"/>
<line x1="139.37" y1="924" x2="139.37" y2="926.3" stroke="#333" stroke-width="0.6"/>
<text x="141.97" y="930.00" font-size="6.6" fill="#4d4d4d" text-anchor="end" font-weight="normal" transform="rotate(-45 141.97 930.00)">LGALS4</text>
<rect x="144.93" y="827.84" width="9.15" height="88.86" fill="#ad5c67"/>
<rect x="144.93" y="850.09" width="9.15" height="66.61" fill="#5a75a0"/>
<rect x="144.93" y="863.93" width="9.15" height="52.77" fill="#80b093"/>
<rect x="144.93" y="889.86" width="9.15" height="26.84" fill="#72a786"/>
<line x1="149.50" y1="924" x2="149.50" y2="926.3" stroke="#333" stroke-width="0.6"/>
<text x="152.10" y="930.00" font-size="6.6" fill="#4d4d4d" text-anchor="end" font-weight="normal" transform="rotate(-45 152.10 930.00)">MVK</text>
<rect x="155.07" y="831.00" width="9.15" height="85.70" fill="#b66f77"/>
<rect x="155.07" y="847.46" width="9.15" height="69.24" fill="#6b87af"/>
<rect x="155.07" y="880.05" width="9.15" height="36.65" fill="#5a75a0"/>
<rect x="155.07" y="903.00" width="9.15" height="13.70" fill="#8f74a3"/>
<line x1="159.64" y1="924" x2="159.64" y2="926.3" stroke="#333" stroke-width="0.6"/>
<text x="162.24" y="930.00" font-size="6.6" fill="#4d4d4d" text-anchor="end" font-weight="normal" transform="rotate(-45 162.24 930.00)">TYMP</text>
<rect x="165.21" y="832.40" width="9.15" height="84.30" fill="#ad5c67"/>
<rect x="165.21" y="870.94" width="9.15" height="45.76" fill="#629c77"/>
<rect x="165.21" y="900.02" width="9.15" height="16.68" fill="#8f74a3"/>
<line x1="169.78" y1="924" x2="169.78" y2="926.3" stroke="#333" stroke-width="0.6"/>
<text x="172.38" y="930.00" font-size="6.6" fill="#4d4d4d" text-anchor="end" font-weight="normal" transform="rotate(-45 172.38 930.00)">TXNDC5</text>
<rect x="175.35" y="834.15" width="9.15" height="82.55" fill="#629c77"/>
<rect x="175.35" y="859.55" width="9.15" height="57.15" fill="#c5b4cc"/>
<rect x="175.35" y="879.70" width="9.15" height="37.00" fill="#a893b6"/>
<rect x="175.35" y="895.12" width="9.15" height="21.58" fill="#9c84ab"/>
<line x1="179.93" y1="924" x2="179.93" y2="926.3" stroke="#333" stroke-width="0.6"/>
<text x="182.53" y="930.00" font-size="6.6" fill="#4d4d4d" text-anchor="end" font-weight="normal" transform="rotate(-45 182.53 930.00)">TNFRSF11A</text>
<rect x="185.49" y="835.02" width="9.15" height="81.68" fill="#ad5c67"/>
<rect x="185.49" y="862.18" width="9.15" height="54.52" fill="#6b87af"/>
<rect x="185.49" y="875.84" width="9.15" height="40.86" fill="#b6a2c1"/>
<rect x="185.49" y="901.77" width="9.15" height="14.93" fill="#9c84ab"/>
<line x1="190.06" y1="924" x2="190.06" y2="926.3" stroke="#333" stroke-width="0.6"/>
<text x="192.66" y="930.00" font-size="6.6" fill="#4d4d4d" text-anchor="end" font-weight="normal" transform="rotate(-45 192.66 930.00)">NOS3</text>
<rect x="195.63" y="838.53" width="9.15" height="78.17" fill="#ad5c67"/>
<rect x="195.63" y="863.23" width="9.15" height="53.47" fill="#629c77"/>
<rect x="195.63" y="890.74" width="9.15" height="25.96" fill="#9c84ab"/>
<line x1="200.20" y1="924" x2="200.20" y2="926.3" stroke="#333" stroke-width="0.6"/>
<text x="202.80" y="930.00" font-size="6.6" fill="#4d4d4d" text-anchor="end" font-weight="normal" transform="rotate(-45 202.80 930.00)">LGALS1</text>
<rect x="205.77" y="841.16" width="9.15" height="75.54" fill="#5a75a0"/>
<rect x="205.77" y="857.97" width="9.15" height="58.73" fill="#629c77"/>
<rect x="205.77" y="873.74" width="9.15" height="42.96" fill="#a893b6"/>
<rect x="205.77" y="890.91" width="9.15" height="25.79" fill="#8f74a3"/>
<line x1="210.34" y1="924" x2="210.34" y2="926.3" stroke="#333" stroke-width="0.6"/>
<text x="212.94" y="930.00" font-size="6.6" fill="#4d4d4d" text-anchor="end" font-weight="normal" transform="rotate(-45 212.94 930.00)">TFRC</text>
<rect x="215.91" y="843.08" width="9.15" height="73.62" fill="#629c77"/>
<rect x="215.91" y="878.12" width="9.15" height="38.58" fill="#a893b6"/>
<rect x="215.91" y="893.89" width="9.15" height="22.81" fill="#9c84ab"/>
<line x1="220.49" y1="924" x2="220.49" y2="926.3" stroke="#333" stroke-width="0.6"/>
<text x="223.09" y="930.00" font-size="6.6" fill="#4d4d4d" text-anchor="end" font-weight="normal" transform="rotate(-45 223.09 930.00)">OGN</text>
<rect x="226.05" y="844.31" width="9.15" height="72.39" fill="#ad5c67"/>
<rect x="226.05" y="869.36" width="9.15" height="47.34" fill="#629c77"/>
<rect x="226.05" y="887.76" width="9.15" height="28.94" fill="#9c84ab"/>
<line x1="230.62" y1="924" x2="230.62" y2="926.3" stroke="#333" stroke-width="0.6"/>
<text x="233.22" y="930.00" font-size="6.6" fill="#4d4d4d" text-anchor="end" font-weight="normal" transform="rotate(-45 233.22 930.00)">MCFD2</text>
<rect x="236.19" y="846.41" width="9.15" height="70.29" fill="#ad5c67"/>
<rect x="236.19" y="866.21" width="9.15" height="50.49" fill="#629c77"/>
<rect x="236.19" y="882.33" width="9.15" height="34.37" fill="#c5b4cc"/>
<rect x="236.19" y="898.97" width="9.15" height="17.73" fill="#9c84ab"/>
<line x1="240.76" y1="924" x2="240.76" y2="926.3" stroke="#333" stroke-width="0.6"/>
<text x="243.36" y="930.00" font-size="6.6" fill="#4d4d4d" text-anchor="end" font-weight="normal" transform="rotate(-45 243.36 930.00)">FABP1</text>
<rect x="246.33" y="848.34" width="9.15" height="68.36" fill="#b66f77"/>
<rect x="246.33" y="863.58" width="9.15" height="53.12" fill="#6b87af"/>
<rect x="246.33" y="883.20" width="9.15" height="33.50" fill="#5a75a0"/>
<rect x="246.33" y="897.22" width="9.15" height="19.48" fill="#9c84ab"/>
<line x1="250.91" y1="924" x2="250.91" y2="926.3" stroke="#333" stroke-width="0.6"/>
<text x="253.50" y="930.00" font-size="6.6" fill="#4d4d4d" text-anchor="end" font-weight="normal" transform="rotate(-45 253.50 930.00)">LGMN</text>
<rect x="256.47" y="848.34" width="9.15" height="68.36" fill="#ad5c67"/>
<rect x="256.47" y="874.09" width="9.15" height="42.61" fill="#5a75a0"/>
<rect x="256.47" y="889.33" width="9.15" height="27.37" fill="#629c77"/>
<line x1="261.05" y1="924" x2="261.05" y2="926.3" stroke="#333" stroke-width="0.6"/>
<text x="263.65" y="930.00" font-size="6.6" fill="#4d4d4d" text-anchor="end" font-weight="normal" transform="rotate(-45 263.65 930.00)">PLIN3</text>
<rect x="266.61" y="851.14" width="9.15" height="65.56" fill="#5a75a0"/>
<rect x="266.61" y="874.27" width="9.15" height="42.43" fill="#629c77"/>
<rect x="266.61" y="901.77" width="9.15" height="14.93" fill="#8f74a3"/>
<line x1="271.19" y1="924" x2="271.19" y2="926.3" stroke="#333" stroke-width="0.6"/>
<text x="273.79" y="930.00" font-size="6.6" fill="#4d4d4d" text-anchor="end" font-weight="normal" transform="rotate(-45 273.79 930.00)">PPP3R1</text>
<rect x="276.75" y="855.17" width="9.15" height="61.53" fill="#629c77"/>
<rect x="276.75" y="878.12" width="9.15" height="38.58" fill="#c5b4cc"/>
<rect x="276.75" y="897.57" width="9.15" height="19.13" fill="#9c84ab"/>
<line x1="281.32" y1="924" x2="281.32" y2="926.3" stroke="#333" stroke-width="0.6"/>
<text x="283.93" y="930.00" font-size="6.6" fill="#4d4d4d" text-anchor="end" font-weight="normal" transform="rotate(-45 283.93 930.00)">COLEC12</text>
<rect x="286.89" y="855.17" width="9.15" height="61.53" fill="#629c77"/>
<rect x="286.89" y="874.09" width="9.15" height="42.61" fill="#a893b6"/>
<rect x="286.89" y="891.09" width="9.15" height="25.61" fill="#9c84ab"/>
<line x1="291.46" y1="924" x2="291.46" y2="926.3" stroke="#333" stroke-width="0.6"/>
<text x="294.06" y="930.00" font-size="6.6" fill="#4d4d4d" text-anchor="end" font-weight="normal" transform="rotate(-45 294.06 930.00)">TNFRSF10A</text>
<rect x="297.03" y="857.97" width="9.15" height="58.73" fill="#ad5c67"/>
<rect x="297.03" y="878.65" width="9.15" height="38.05" fill="#b6a2c1"/>
<rect x="297.03" y="899.15" width="9.15" height="17.55" fill="#9c84ab"/>
<line x1="301.61" y1="924" x2="301.61" y2="926.3" stroke="#333" stroke-width="0.6"/>
<text x="304.21" y="930.00" font-size="6.6" fill="#4d4d4d" text-anchor="end" font-weight="normal" transform="rotate(-45 304.21 930.00)">TGFB1</text>
<rect x="307.17" y="857.97" width="9.15" height="58.73" fill="#72a786"/>
<rect x="307.17" y="881.98" width="9.15" height="34.72" fill="#629c77"/>
<rect x="307.17" y="900.02" width="9.15" height="16.68" fill="#8f74a3"/>
<line x1="311.75" y1="924" x2="311.75" y2="926.3" stroke="#333" stroke-width="0.6"/>
<text x="314.35" y="930.00" font-size="6.6" fill="#4d4d4d" text-anchor="end" font-weight="normal" transform="rotate(-45 314.35 930.00)">PLA2G7</text>
<rect x="317.31" y="859.38" width="9.15" height="57.32" fill="#b66f77"/>
<rect x="317.31" y="873.22" width="9.15" height="43.48" fill="#6b87af"/>
<rect x="317.31" y="887.41" width="9.15" height="29.29" fill="#629c77"/>
<rect x="317.31" y="902.30" width="9.15" height="14.40" fill="#a893b6"/>
<line x1="321.88" y1="924" x2="321.88" y2="926.3" stroke="#333" stroke-width="0.6"/>
<text x="324.49" y="930.00" font-size="6.6" fill="#4d4d4d" text-anchor="end" font-weight="normal" transform="rotate(-45 324.49 930.00)">ST6GAL1</text>
<rect x="327.45" y="860.08" width="9.15" height="56.62" fill="#ad5c67"/>
<rect x="327.45" y="881.80" width="9.15" height="34.90" fill="#629c77"/>
<rect x="327.45" y="901.07" width="9.15" height="15.63" fill="#c5b4cc"/>
<line x1="332.03" y1="924" x2="332.03" y2="926.3" stroke="#333" stroke-width="0.6"/>
<text x="334.63" y="930.00" font-size="6.6" fill="#4d4d4d" text-anchor="end" font-weight="normal" transform="rotate(-45 334.63 930.00)">TFF2</text>
<rect x="337.59" y="862.03" width="9.15" height="54.67" fill="#6b87af"/>
<rect x="337.59" y="879.20" width="9.15" height="37.50" fill="#80b093"/>
<rect x="337.59" y="899.87" width="9.15" height="16.83" fill="#72a786"/>
<line x1="342.17" y1="924" x2="342.17" y2="926.3" stroke="#333" stroke-width="0.6"/>
<text x="344.77" y="930.00" font-size="6.6" fill="#4d4d4d" text-anchor="end" font-weight="normal" transform="rotate(-45 344.77 930.00)">ARSA</text>
<rect x="347.73" y="862.91" width="9.15" height="53.79" fill="#b66f77"/>
<rect x="347.73" y="880.95" width="9.15" height="35.75" fill="#ad5c67"/>
<rect x="347.73" y="900.57" width="9.15" height="16.13" fill="#72a786"/>
<line x1="352.31" y1="924" x2="352.31" y2="926.3" stroke="#333" stroke-width="0.6"/>
<text x="354.91" y="930.00" font-size="6.6" fill="#4d4d4d" text-anchor="end" font-weight="normal" transform="rotate(-45 354.91 930.00)">MEPE</text>
<rect x="357.87" y="863.43" width="9.15" height="53.27" fill="#80b093"/>
<rect x="357.87" y="876.92" width="9.15" height="39.78" fill="#72a786"/>
<rect x="357.87" y="892.87" width="9.15" height="23.83" fill="#629c77"/>
<line x1="362.44" y1="924" x2="362.44" y2="926.3" stroke="#333" stroke-width="0.6"/>
<text x="365.05" y="930.00" font-size="6.6" fill="#4d4d4d" text-anchor="end" font-weight="normal" transform="rotate(-45 365.05 930.00)">P4HB</text>
<rect x="368.01" y="865.01" width="9.15" height="51.69" fill="#6b87af"/>
<rect x="368.01" y="883.76" width="9.15" height="32.94" fill="#5a75a0"/>
<rect x="368.01" y="899.87" width="9.15" height="16.83" fill="#80b093"/>
<line x1="372.58" y1="924" x2="372.58" y2="926.3" stroke="#333" stroke-width="0.6"/>
<text x="375.19" y="930.00" font-size="6.6" fill="#4d4d4d" text-anchor="end" font-weight="normal" transform="rotate(-45 375.19 930.00)">SOD2</text>
<rect x="378.15" y="865.54" width="9.15" height="51.16" fill="#ad5c67"/>
<rect x="378.15" y="886.73" width="9.15" height="29.97" fill="#629c77"/>
<rect x="378.15" y="902.15" width="9.15" height="14.55" fill="#c5b4cc"/>
<line x1="382.73" y1="924" x2="382.73" y2="926.3" stroke="#333" stroke-width="0.6"/>
<text x="385.33" y="930.00" font-size="6.6" fill="#4d4d4d" text-anchor="end" font-weight="normal" transform="rotate(-45 385.33 930.00)">REG3A</text>
<rect x="388.29" y="866.06" width="9.15" height="50.64" fill="#6b87af"/>
<rect x="388.29" y="891.81" width="9.15" height="24.89" fill="#5a75a0"/>
<line x1="392.87" y1="924" x2="392.87" y2="926.3" stroke="#333" stroke-width="0.6"/>
<text x="395.47" y="930.00" font-size="6.6" fill="#4d4d4d" text-anchor="end" font-weight="normal" transform="rotate(-45 395.47 930.00)">SAMD9L</text>
<rect x="398.43" y="866.06" width="9.15" height="50.64" fill="#ad5c67"/>
<rect x="398.43" y="897.42" width="9.15" height="19.28" fill="#9c84ab"/>
<line x1="403.00" y1="924" x2="403.00" y2="926.3" stroke="#333" stroke-width="0.6"/>
<text x="405.61" y="930.00" font-size="6.6" fill="#4d4d4d" text-anchor="end" font-weight="normal" transform="rotate(-45 405.61 930.00)">IL18</text>
<rect x="408.57" y="866.59" width="9.15" height="50.11" fill="#ad5c67"/>
<rect x="408.57" y="886.21" width="9.15" height="30.49" fill="#629c77"/>
<rect x="408.57" y="901.98" width="9.15" height="14.72" fill="#9c84ab"/>
<line x1="413.15" y1="924" x2="413.15" y2="926.3" stroke="#333" stroke-width="0.6"/>
<text x="415.75" y="930.00" font-size="6.6" fill="#4d4d4d" text-anchor="end" font-weight="normal" transform="rotate(-45 415.75 930.00)">DDAH1</text>
<rect x="418.71" y="868.69" width="9.15" height="48.01" fill="#ad5c67"/>
<rect x="418.71" y="886.73" width="9.15" height="29.97" fill="#6b87af"/>
<rect x="418.71" y="900.93" width="9.15" height="15.77" fill="#9c84ab"/>
<line x1="423.29" y1="924" x2="423.29" y2="926.3" stroke="#333" stroke-width="0.6"/>
<text x="425.89" y="930.00" font-size="6.6" fill="#4d4d4d" text-anchor="end" font-weight="normal" transform="rotate(-45 425.89 930.00)">MARCO</text>
<rect x="428.85" y="870.97" width="9.15" height="45.73" fill="#80b093"/>
<rect x="428.85" y="896.72" width="9.15" height="19.98" fill="#72a786"/>
<line x1="433.43" y1="924" x2="433.43" y2="926.3" stroke="#333" stroke-width="0.6"/>
<text x="436.03" y="930.00" font-size="6.6" fill="#4d4d4d" text-anchor="end" font-weight="normal" transform="rotate(-45 436.03 930.00)">ACAA1</text>
<rect x="438.99" y="871.84" width="9.15" height="44.86" fill="#629c77"/>
<rect x="438.99" y="897.77" width="9.15" height="18.93" fill="#c5b4cc"/>
<line x1="443.56" y1="924" x2="443.56" y2="926.3" stroke="#333" stroke-width="0.6"/>
<text x="446.17" y="930.00" font-size="6.6" fill="#4d4d4d" text-anchor="end" font-weight="normal" transform="rotate(-45 446.17 930.00)">LY6D</text>
<rect x="449.13" y="871.84" width="9.15" height="44.86" fill="#ad5c67"/>
<rect x="449.13" y="885.86" width="9.15" height="30.84" fill="#c5b4cc"/>
<rect x="449.13" y="902.85" width="9.15" height="13.85" fill="#9c84ab"/>
<line x1="453.70" y1="924" x2="453.70" y2="926.3" stroke="#333" stroke-width="0.6"/>
<text x="456.31" y="930.00" font-size="6.6" fill="#4d4d4d" text-anchor="end" font-weight="normal" transform="rotate(-45 456.31 930.00)">CD4</text>
<rect x="459.27" y="873.42" width="9.15" height="43.28" fill="#629c77"/>
<rect x="459.27" y="899.00" width="9.15" height="17.70" fill="#8f74a3"/>
<line x1="463.85" y1="924" x2="463.85" y2="926.3" stroke="#333" stroke-width="0.6"/>
<text x="466.45" y="930.00" font-size="6.6" fill="#4d4d4d" text-anchor="end" font-weight="normal" transform="rotate(-45 466.45 930.00)">ABL1</text>
<rect x="469.41" y="873.42" width="9.15" height="43.28" fill="#ad5c67"/>
<rect x="469.41" y="900.75" width="9.15" height="15.95" fill="#629c77"/>
<line x1="473.99" y1="924" x2="473.99" y2="926.3" stroke="#333" stroke-width="0.6"/>
<text x="476.59" y="930.00" font-size="6.6" fill="#4d4d4d" text-anchor="end" font-weight="normal" transform="rotate(-45 476.59 930.00)">TRIAP1</text>
<rect x="479.55" y="875.00" width="9.15" height="41.70" fill="#ad5c67"/>
<rect x="479.55" y="899.70" width="9.15" height="17.00" fill="#629c77"/>
<line x1="484.12" y1="924" x2="484.12" y2="926.3" stroke="#333" stroke-width="0.6"/>
<text x="486.73" y="930.00" font-size="6.6" fill="#4d4d4d" text-anchor="end" font-weight="normal" transform="rotate(-45 486.73 930.00)">FABP5</text>
<rect x="489.69" y="877.97" width="9.15" height="38.73" fill="#629c77"/>
<rect x="489.69" y="897.60" width="9.15" height="19.10" fill="#9c84ab"/>
<line x1="494.27" y1="924" x2="494.27" y2="926.3" stroke="#333" stroke-width="0.6"/>
<text x="496.87" y="930.00" font-size="6.6" fill="#4d4d4d" text-anchor="end" font-weight="normal" transform="rotate(-45 496.87 930.00)">TMSB10</text>
<rect x="499.83" y="878.33" width="9.15" height="38.37" fill="#629c77"/>
<rect x="499.83" y="901.63" width="9.15" height="15.07" fill="#b6a2c1"/>
<line x1="504.41" y1="924" x2="504.41" y2="926.3" stroke="#333" stroke-width="0.6"/>
<text x="507.01" y="930.00" font-size="6.6" fill="#4d4d4d" text-anchor="end" font-weight="normal" transform="rotate(-45 507.01 930.00)">THY1</text>
<rect x="509.97" y="878.68" width="9.15" height="38.02" fill="#629c77"/>
<rect x="509.97" y="899.00" width="9.15" height="17.70" fill="#9c84ab"/>
<line x1="514.55" y1="924" x2="514.55" y2="926.3" stroke="#333" stroke-width="0.6"/>
<text x="517.15" y="930.00" font-size="6.6" fill="#4d4d4d" text-anchor="end" font-weight="normal" transform="rotate(-45 517.15 930.00)">CRELD2</text>
<rect x="520.11" y="878.85" width="9.15" height="37.85" fill="#629c77"/>
<rect x="520.11" y="899.00" width="9.15" height="17.70" fill="#9c84ab"/>
<line x1="524.69" y1="924" x2="524.69" y2="926.3" stroke="#333" stroke-width="0.6"/>
<text x="527.29" y="930.00" font-size="6.6" fill="#4d4d4d" text-anchor="end" font-weight="normal" transform="rotate(-45 527.29 930.00)">PAM</text>
<rect x="530.25" y="879.03" width="9.15" height="37.67" fill="#629c77"/>
<rect x="530.25" y="900.40" width="9.15" height="16.30" fill="#9c84ab"/>
<line x1="534.83" y1="924" x2="534.83" y2="926.3" stroke="#333" stroke-width="0.6"/>
<text x="537.43" y="930.00" font-size="6.6" fill="#4d4d4d" text-anchor="end" font-weight="normal" transform="rotate(-45 537.43 930.00)">KLK8</text>
<rect x="540.39" y="879.55" width="9.15" height="37.15" fill="#ad5c67"/>
<rect x="540.39" y="899.35" width="9.15" height="17.35" fill="#c5b4cc"/>
<line x1="544.97" y1="924" x2="544.97" y2="926.3" stroke="#333" stroke-width="0.6"/>
<text x="547.57" y="930.00" font-size="6.6" fill="#4d4d4d" text-anchor="end" font-weight="normal" transform="rotate(-45 547.57 930.00)">PLAUR</text>
<rect x="550.53" y="879.90" width="9.15" height="36.80" fill="#ad5c67"/>
<rect x="550.53" y="901.10" width="9.15" height="15.60" fill="#9c84ab"/>
<line x1="555.11" y1="924" x2="555.11" y2="926.3" stroke="#333" stroke-width="0.6"/>
<text x="557.71" y="930.00" font-size="6.6" fill="#4d4d4d" text-anchor="end" font-weight="normal" transform="rotate(-45 557.71 930.00)">IL6</text>
<rect x="560.67" y="880.08" width="9.15" height="36.62" fill="#ad5c67"/>
<rect x="560.67" y="900.57" width="9.15" height="16.13" fill="#629c77"/>
<line x1="565.25" y1="924" x2="565.25" y2="926.3" stroke="#333" stroke-width="0.6"/>
<text x="567.85" y="930.00" font-size="6.6" fill="#4d4d4d" text-anchor="end" font-weight="normal" transform="rotate(-45 567.85 930.00)">CD48</text>
<rect x="570.81" y="880.60" width="9.15" height="36.10" fill="#5a75a0"/>
<rect x="570.81" y="901.45" width="9.15" height="15.25" fill="#8f74a3"/>
<line x1="575.39" y1="924" x2="575.39" y2="926.3" stroke="#333" stroke-width="0.6"/>
<text x="577.99" y="930.00" font-size="6.6" fill="#4d4d4d" text-anchor="end" font-weight="normal" transform="rotate(-45 577.99 930.00)">FKBP5</text>
<rect x="580.95" y="881.13" width="9.15" height="35.57" fill="#80b093"/>
<rect x="580.95" y="897.95" width="9.15" height="18.75" fill="#b6a2c1"/>
<line x1="585.53" y1="924" x2="585.53" y2="926.3" stroke="#333" stroke-width="0.6"/>
<text x="588.13" y="930.00" font-size="6.6" fill="#4d4d4d" text-anchor="end" font-weight="normal" transform="rotate(-45 588.13 930.00)">KYNU</text>
<rect x="591.09" y="881.30" width="9.15" height="35.40" fill="#ad5c67"/>
<rect x="591.09" y="896.72" width="9.15" height="19.98" fill="#9c84ab"/>
<line x1="595.67" y1="924" x2="595.67" y2="926.3" stroke="#333" stroke-width="0.6"/>
<text x="598.27" y="930.00" font-size="6.6" fill="#4d4d4d" text-anchor="end" font-weight="normal" transform="rotate(-45 598.27 930.00)">ANGPT2</text>
<rect x="601.23" y="881.65" width="9.15" height="35.05" fill="#629c77"/>
<rect x="601.23" y="897.95" width="9.15" height="18.75" fill="#9c84ab"/>
<line x1="605.81" y1="924" x2="605.81" y2="926.3" stroke="#333" stroke-width="0.6"/>
<text x="608.41" y="930.00" font-size="6.6" fill="#4d4d4d" text-anchor="end" font-weight="normal" transform="rotate(-45 608.41 930.00)">CD40</text>
<rect x="611.37" y="882.00" width="9.15" height="34.70" fill="#ad5c67"/>
<rect x="611.37" y="901.10" width="9.15" height="15.60" fill="#9c84ab"/>
<line x1="615.95" y1="924" x2="615.95" y2="926.3" stroke="#333" stroke-width="0.6"/>
<text x="618.55" y="930.00" font-size="6.6" fill="#4d4d4d" text-anchor="end" font-weight="normal" transform="rotate(-45 618.55 930.00)">CCL17</text>
<rect x="621.51" y="882.35" width="9.15" height="34.35" fill="#ad5c67"/>
<rect x="621.51" y="900.40" width="9.15" height="16.30" fill="#9c84ab"/>
<line x1="626.09" y1="924" x2="626.09" y2="926.3" stroke="#333" stroke-width="0.6"/>
<text x="628.69" y="930.00" font-size="6.6" fill="#4d4d4d" text-anchor="end" font-weight="normal" transform="rotate(-45 628.69 930.00)">SIAE</text>
<rect x="631.65" y="882.88" width="9.15" height="33.82" fill="#ad5c67"/>
<rect x="631.65" y="902.33" width="9.15" height="14.37" fill="#9c84ab"/>
<line x1="636.23" y1="924" x2="636.23" y2="926.3" stroke="#333" stroke-width="0.6"/>
<text x="638.83" y="930.00" font-size="6.6" fill="#4d4d4d" text-anchor="end" font-weight="normal" transform="rotate(-45 638.83 930.00)">BRK1</text>
<rect x="641.79" y="883.06" width="9.15" height="33.64" fill="#629c77"/>
<rect x="641.79" y="897.60" width="9.15" height="19.10" fill="#9c84ab"/>
<line x1="646.37" y1="924" x2="646.37" y2="926.3" stroke="#333" stroke-width="0.6"/>
<text x="648.97" y="930.00" font-size="6.6" fill="#4d4d4d" text-anchor="end" font-weight="normal" transform="rotate(-45 648.97 930.00)">ENAH</text>
<rect x="651.93" y="883.23" width="9.15" height="33.47" fill="#5a75a0"/>
<rect x="651.93" y="901.98" width="9.15" height="14.72" fill="#8f74a3"/>
<line x1="656.51" y1="924" x2="656.51" y2="926.3" stroke="#333" stroke-width="0.6"/>
<text x="659.11" y="930.00" font-size="6.6" fill="#4d4d4d" text-anchor="end" font-weight="normal" transform="rotate(-45 659.11 930.00)">ITGB1BP2</text>
<rect x="662.07" y="883.93" width="9.15" height="32.77" fill="#5a75a0"/>
<rect x="662.07" y="900.75" width="9.15" height="15.95" fill="#629c77"/>
<line x1="666.65" y1="924" x2="666.65" y2="926.3" stroke="#333" stroke-width="0.6"/>
<text x="669.25" y="930.00" font-size="6.6" fill="#4d4d4d" text-anchor="end" font-weight="normal" transform="rotate(-45 669.25 930.00)">MAPK9</text>
<rect x="672.21" y="884.11" width="9.15" height="32.59" fill="#6b87af"/>
<rect x="672.21" y="898.12" width="9.15" height="18.58" fill="#9c84ab"/>
<line x1="676.79" y1="924" x2="676.79" y2="926.3" stroke="#333" stroke-width="0.6"/>
<text x="679.39" y="930.00" font-size="6.6" fill="#4d4d4d" text-anchor="end" font-weight="normal" transform="rotate(-45 679.39 930.00)">WARS</text>
<path d="M21.5 759.2 L21.5 924 L683 924" fill="none" stroke="#111" stroke-width="1.3"/>
<line x1="19.3" y1="916.80" x2="21.5" y2="916.80" stroke="#333" stroke-width="0.6"/>
<text x="18.90" y="919.25" font-size="6.8" fill="#5c5c5c" text-anchor="end" font-weight="normal">0.0</text>
<line x1="19.3" y1="882.83" x2="21.5" y2="882.83" stroke="#333" stroke-width="0.6"/>
<text x="18.90" y="885.28" font-size="6.8" fill="#5c5c5c" text-anchor="end" font-weight="normal">0.1</text>
<line x1="19.3" y1="848.86" x2="21.5" y2="848.86" stroke="#333" stroke-width="0.6"/>
<text x="18.90" y="851.31" font-size="6.8" fill="#5c5c5c" text-anchor="end" font-weight="normal">0.2</text>
<line x1="19.3" y1="814.89" x2="21.5" y2="814.89" stroke="#333" stroke-width="0.6"/>
<text x="18.90" y="817.34" font-size="6.8" fill="#5c5c5c" text-anchor="end" font-weight="normal">0.3</text>
<line x1="19.3" y1="780.92" x2="21.5" y2="780.92" stroke="#333" stroke-width="0.6"/>
<text x="18.90" y="783.37" font-size="6.8" fill="#5c5c5c" text-anchor="end" font-weight="normal">0.4</text>
<text x="5.90" y="842.00" font-size="8.15" fill="#111" text-anchor="middle" font-weight="bold" transform="rotate(-90 5.90 842.00)">Stacked Mediated Proportion</text>
<rect x="495.5" y="764.2" width="128.9" height="69" fill="#fff" stroke="#222" stroke-width="0.7"/>
<text x="509.70" y="776.20" font-size="7.3" fill="#111" text-anchor="start" font-weight="normal">Disease</text>
<rect x="509.7" y="779.70" width="7.2" height="7.88" fill="#b66f77"/>
<text x="520.00" y="786.30" font-size="7.6" fill="#111" text-anchor="start" font-weight="normal">COPD</text>
<rect x="561.8" y="779.70" width="7.2" height="7.88" fill="#629c77"/>
<text x="572.10" y="786.30" font-size="7.6" fill="#111" text-anchor="start" font-weight="normal">CKD</text>
<rect x="509.7" y="787.58" width="7.2" height="7.88" fill="#ad5c67"/>
<text x="520.00" y="794.18" font-size="7.6" fill="#111" text-anchor="start" font-weight="normal">Pneumonia</text>
<rect x="561.8" y="787.58" width="7.2" height="7.88" fill="#c5b4cc"/>
<text x="572.10" y="794.18" font-size="7.6" fill="#111" text-anchor="start" font-weight="normal">Arrhythmias</text>
<rect x="509.7" y="795.46" width="7.2" height="7.88" fill="#6b87af"/>
<text x="520.00" y="802.06" font-size="7.6" fill="#111" text-anchor="start" font-weight="normal">LE</text>
<rect x="561.8" y="795.46" width="7.2" height="7.88" fill="#b6a2c1"/>
<text x="572.10" y="802.06" font-size="7.6" fill="#111" text-anchor="start" font-weight="normal">IHD</text>
<rect x="509.7" y="803.34" width="7.2" height="7.88" fill="#5a75a0"/>
<text x="520.00" y="809.94" font-size="7.6" fill="#111" text-anchor="start" font-weight="normal">RA</text>
<rect x="561.8" y="803.34" width="7.2" height="7.88" fill="#a893b6"/>
<text x="572.10" y="809.94" font-size="7.6" fill="#111" text-anchor="start" font-weight="normal">PAD</text>
<rect x="509.7" y="811.22" width="7.2" height="7.88" fill="#80b093"/>
<text x="520.00" y="817.82" font-size="7.6" fill="#111" text-anchor="start" font-weight="normal">NAFLD</text>
<rect x="561.8" y="811.22" width="7.2" height="7.88" fill="#9c84ab"/>
<text x="572.10" y="817.82" font-size="7.6" fill="#111" text-anchor="start" font-weight="normal">HeartFailure</text>
<rect x="509.7" y="819.10" width="7.2" height="7.88" fill="#72a786"/>
<text x="520.00" y="825.70" font-size="7.6" fill="#111" text-anchor="start" font-weight="normal">T2D</text>
<rect x="561.8" y="819.10" width="7.2" height="7.88" fill="#8f74a3"/>
<text x="572.10" y="825.70" font-size="7.6" fill="#111" text-anchor="start" font-weight="normal">Anemia</text>
</svg>
</body></html>
